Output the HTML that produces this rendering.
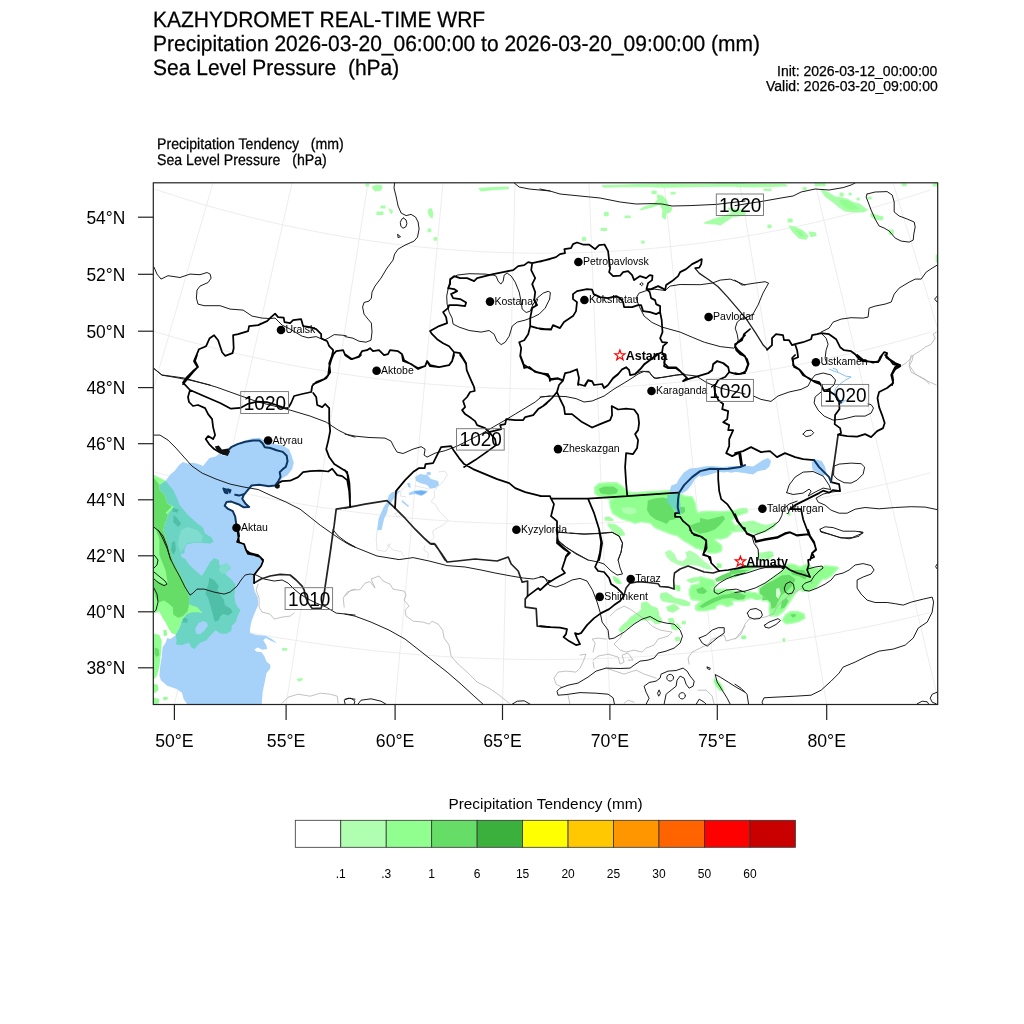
<!DOCTYPE html>
<html><head><meta charset="utf-8">
<style>
html,body{margin:0;padding:0;background:#fff;}
body{width:1024px;height:1024px;position:relative;overflow:hidden;font-family:"Liberation Sans",sans-serif;color:#000;}
.t{position:absolute;white-space:pre;line-height:1;will-change:transform;-webkit-text-stroke:0.25px #000;}
svg{position:absolute;left:0;top:0;will-change:transform;}
.s1{transform:translateY(-0.35px) scaleY(1.055);transform-origin:0 84.65%;text-rendering:geometricPrecision;}
.s2{transform:translateY(0.55px) scaleY(1.09);transform-origin:0 84.65%;text-rendering:geometricPrecision;}
svg text{font-family:"Liberation Sans",sans-serif;}
</style></head><body>
<div class="t s1" id="t1" style="left:153px;top:9.85px;font-size:21px;">KAZHYDROMET REAL-TIME WRF</div>
<div class="t s1" id="t2" style="left:153px;top:33.85px;font-size:21px;">Precipitation 2026-03-20_06:00:00 to 2026-03-20_09:00:00 (mm)</div>
<div class="t s1" id="t3" style="left:153px;top:57.85px;font-size:21px;">Sea Level Pressure  (hPa)</div>
<div class="t" id="t4" style="right:86.6px;top:64px;font-size:14px;">Init: 2026-03-12_00:00:00</div>
<div class="t" id="t5" style="right:86.6px;top:79.4px;font-size:14px;">Valid: 2026-03-20_09:00:00</div>
<div class="t s2" id="t6" style="left:157px;top:136.3px;font-size:14.15px;">Precipitation Tendency   (mm)</div>
<div class="t s2" id="t7" style="left:157px;top:151.8px;font-size:14.15px;">Sea Level Pressure   (hPa)</div>
<svg width="1024" height="1024" viewBox="0 0 1024 1024">
<!--MAP-->
<defs><clipPath id="fr"><rect x="153.3" y="182.8" width="784.4000000000001" height="521.7"/></clipPath></defs>
<g clip-path="url(#fr)">
<path d="M213.0,182.8 L61.9,704.5 M292.0,182.8 L174.4,704.5 M368.0,182.8 L286.1,704.5 M443.0,182.8 L395.1,704.5 M515.0,182.8 L502.5,704.5 M589.0,182.8 L609.9,704.5 M664.0,182.8 L717.3,704.5 M739.5,182.8 L826.7,704.5 M815.0,182.8 L939.2,704.5 M893.0,182.8 L1052.8,704.5 M150.0,187.6 L165.0,192.6 L180.0,197.4 L195.0,202.1 L210.0,206.5 L225.0,210.6 L240.0,214.6 L255.0,218.4 L270.0,222.0 L285.0,225.4 L300.0,228.5 L315.0,231.5 L330.0,234.3 L345.0,236.9 L360.0,239.3 L375.0,241.5 L390.0,243.5 L405.0,245.3 L420.0,247.0 L435.0,248.4 L450.0,249.7 L465.0,250.7 L480.0,251.6 L495.0,252.3 L510.0,252.8 L525.0,253.1 L540.0,253.3 L555.0,253.2 L570.0,253.0 L585.0,252.6 L600.0,252.0 L615.0,251.2 L630.0,250.2 L645.0,249.0 L660.0,247.7 L675.0,246.1 L690.0,244.4 L705.0,242.5 L720.0,240.3 L735.0,238.0 L750.0,235.5 L765.0,232.8 L780.0,230.0 L795.0,226.9 L810.0,223.6 L825.0,220.1 L840.0,216.4 L855.0,212.5 L870.0,208.4 L885.0,204.1 L900.0,199.6 L915.0,194.9 L930.0,190.0 M150.0,330.2 L165.0,334.7 L180.0,339.0 L195.0,343.1 L210.0,347.0 L225.0,350.8 L240.0,354.3 L255.0,357.7 L270.0,360.9 L285.0,363.9 L300.0,366.8 L315.0,369.4 L330.0,371.9 L345.0,374.3 L360.0,376.4 L375.0,378.4 L390.0,380.2 L405.0,381.8 L420.0,383.3 L435.0,384.6 L450.0,385.7 L465.0,386.7 L480.0,387.5 L495.0,388.1 L510.0,388.5 L525.0,388.8 L540.0,389.0 L555.0,388.9 L570.0,388.7 L585.0,388.3 L600.0,387.8 L615.0,387.1 L630.0,386.2 L645.0,385.1 L660.0,383.9 L675.0,382.5 L690.0,381.0 L705.0,379.2 L720.0,377.3 L735.0,375.3 L750.0,373.0 L765.0,370.6 L780.0,368.0 L795.0,365.3 L810.0,362.3 L825.0,359.2 L840.0,355.9 L855.0,352.4 L870.0,348.8 L885.0,344.9 L900.0,340.9 L915.0,336.7 L930.0,332.3 M150.0,470.9 L165.0,474.9 L180.0,478.8 L195.0,482.5 L210.0,486.1 L225.0,489.5 L240.0,492.7 L255.0,495.7 L270.0,498.6 L285.0,501.4 L300.0,503.9 L315.0,506.4 L330.0,508.6 L345.0,510.7 L360.0,512.7 L375.0,514.5 L390.0,516.1 L405.0,517.6 L420.0,518.9 L435.0,520.1 L450.0,521.1 L465.0,522.0 L480.0,522.7 L495.0,523.3 L510.0,523.7 L525.0,524.0 L540.0,524.1 L555.0,524.0 L570.0,523.9 L585.0,523.5 L600.0,523.0 L615.0,522.4 L630.0,521.6 L645.0,520.6 L660.0,519.5 L675.0,518.2 L690.0,516.8 L705.0,515.3 L720.0,513.5 L735.0,511.7 L750.0,509.6 L765.0,507.4 L780.0,505.1 L795.0,502.6 L810.0,499.9 L825.0,497.1 L840.0,494.1 L855.0,491.0 L870.0,487.7 L885.0,484.2 L900.0,480.6 L915.0,476.8 L930.0,472.8 M150.0,611.0 L165.0,614.7 L180.0,618.2 L195.0,621.6 L210.0,624.8 L225.0,627.9 L240.0,630.8 L255.0,633.6 L270.0,636.3 L285.0,638.8 L300.0,641.1 L315.0,643.3 L330.0,645.4 L345.0,647.3 L360.0,649.1 L375.0,650.8 L390.0,652.3 L405.0,653.6 L420.0,654.8 L435.0,655.9 L450.0,656.9 L465.0,657.7 L480.0,658.3 L495.0,658.8 L510.0,659.2 L525.0,659.5 L540.0,659.6 L555.0,659.5 L570.0,659.4 L585.0,659.0 L600.0,658.6 L615.0,658.0 L630.0,657.3 L645.0,656.4 L660.0,655.4 L675.0,654.2 L690.0,652.9 L705.0,651.5 L720.0,649.9 L735.0,648.2 L750.0,646.3 L765.0,644.3 L780.0,642.2 L795.0,639.9 L810.0,637.5 L825.0,634.9 L840.0,632.2 L855.0,629.3 L870.0,626.3 L885.0,623.1 L900.0,619.8 L915.0,616.3 L930.0,612.7" fill="none" stroke="#e8e8e8" stroke-width="0.8"/>
<!--FILLS-->
<path d="M595.5,487.3 L599.4,484.2 L607.2,483.4 L616.6,483.4 L621.2,486.6 L625.2,490.5 L630.6,493.6 L636.9,493.6 L643.1,492.8 L655.6,492.0 L669.7,491.2 L671.2,493.6 L679.1,493.6 L683.8,496.7 L691.6,497.5 L694.7,503.8 L695.5,510.0 L697.8,513.9 L704.1,513.1 L715.0,513.1 L725.9,512.3 L733.8,511.6 L740.0,510.0 L746.2,509.2 L747.0,511.6 L740.0,513.9 L735.3,516.2 L730.6,520.2 L733.8,525.6 L740.0,528.8 L735.3,531.1 L727.5,530.3 L725.9,535.0 L721.2,538.1 L715.0,538.1 L713.4,541.2 L719.7,545.2 L721.2,549.1 L716.6,552.2 L708.8,552.2 L702.5,549.1 L696.2,547.5 L691.6,544.4 L683.8,539.7 L677.5,535.0 L671.2,533.4 L663.4,530.3 L655.6,527.2 L650.9,522.5 L641.6,520.9 L635.3,522.5 L629.1,520.2 L621.2,517.8 L613.4,513.1 L611.1,506.9 L610.3,501.4 L615.0,499.1 L610.3,498.3 L599.4,495.9 L595.5,492.8Z" fill="#b0ffb0" stroke="#b0ffb0" stroke-width="3" stroke-linejoin="round"/>
<path d="M604.8,517.8 L608.8,517.0 L613.4,520.2 L608.8,520.6Z" fill="#b0ffb0" stroke="#b0ffb0" stroke-width="1.2" stroke-linejoin="round"/>
<path d="M608.8,524.8 L615.0,525.6 L621.2,530.3 L623.6,534.2 L619.7,535.0 L613.4,530.3Z" fill="#b0ffb0" stroke="#b0ffb0" stroke-width="3" stroke-linejoin="round"/>
<path d="M613.4,576.4 L618.1,578.8 L621.2,583.4 L617.3,583.4 L614.2,580.3Z" fill="#b0ffb0" stroke="#b0ffb0" stroke-width="1.2" stroke-linejoin="round"/>
<path d="M690.0,589.7 L696.2,586.6 L704.1,585.0 L710.3,588.1 L715.0,592.8 L722.8,595.9 L730.6,595.2 L740.0,594.4 L746.2,595.9 L740.0,599.1 L730.6,600.6 L724.4,601.4 L718.1,603.8 L711.9,608.4 L705.6,610.0 L697.8,610.0 L696.2,606.1 L702.5,602.2 L699.4,599.1 L693.1,599.1 L690.0,594.4Z" fill="#b0ffb0" stroke="#b0ffb0" stroke-width="3" stroke-linejoin="round"/>
<path d="M661.1,593.6 L666.6,592.8 L672.8,597.5 L677.5,599.1 L683.8,600.6 L690.0,604.5 L683.8,605.3 L677.5,603.8 L671.2,601.4 L663.4,600.6 L660.3,597.5Z" fill="#b0ffb0" stroke="#b0ffb0" stroke-width="1.2" stroke-linejoin="round"/>
<path d="M686.9,580.3 L693.1,578.0 L702.5,577.2 L699.4,580.3 L691.6,582.7Z" fill="#b0ffb0" stroke="#b0ffb0" stroke-width="1.2" stroke-linejoin="round"/>
<path d="M641.6,603.8 L646.2,602.2 L652.5,606.9 L657.2,608.4 L658.8,614.7 L655.6,620.0 L641.6,620.0 L636.9,616.2 L643.1,610.0Z" fill="#b0ffb0" stroke="#b0ffb0" stroke-width="1.2" stroke-linejoin="round"/>
<path d="M674.4,585.0 L679.1,585.8 L677.5,589.7 L674.4,588.9Z" fill="#b0ffb0" stroke="#b0ffb0" stroke-width="1.2" stroke-linejoin="round"/>
<path d="M668.1,606.9 L674.4,604.5 L679.1,608.4 L672.8,612.3 L668.1,610.8Z" fill="#b0ffb0" stroke="#b0ffb0" stroke-width="1.2" stroke-linejoin="round"/>
<path d="M708.8,580.3 L715.0,581.1 L713.4,585.0 L708.8,583.4Z" fill="#b0ffb0" stroke="#b0ffb0" stroke-width="1.2" stroke-linejoin="round"/>
<path d="M700.0,512.7 L709.4,511.9 L720.3,512.7 L729.7,511.9 L733.6,514.2 L731.2,518.1 L728.1,522.8 L726.6,529.1 L731.2,532.2 L726.6,536.9 L720.3,538.4 L712.5,536.9 L706.2,534.5 L700.0,535.3Z" fill="#b0ffb0" stroke="#b0ffb0" stroke-width="3" stroke-linejoin="round"/>
<path d="M741.4,508.8 L746.1,508.8 L745.3,511.1 L740.6,511.6Z" fill="#b0ffb0" stroke="#b0ffb0" stroke-width="1.2" stroke-linejoin="round"/>
<path d="M742.2,525.2 L746.9,522.8 L753.1,522.0 L760.9,525.2 L768.8,526.7 L775.0,523.6 L771.9,527.5 L765.6,530.6 L757.8,533.0 L750.0,531.4 L744.5,529.1Z" fill="#b0ffb0" stroke="#b0ffb0" stroke-width="3" stroke-linejoin="round"/>
<path d="M708.6,543.1 L715.6,541.6 L721.1,546.2 L720.3,550.9 L714.1,551.7 L709.4,549.4Z" fill="#b0ffb0" stroke="#b0ffb0" stroke-width="3" stroke-linejoin="round"/>
<path d="M717.2,563.4 L721.1,564.2 L721.1,567.3 L717.2,567.3Z" fill="#b0ffb0" stroke="#b0ffb0" stroke-width="1.2" stroke-linejoin="round"/>
<path d="M764.1,552.5 L770.3,551.7 L773.4,555.6 L768.8,558.8 L762.5,557.2Z" fill="#b0ffb0" stroke="#b0ffb0" stroke-width="1.2" stroke-linejoin="round"/>
<path d="M731.2,574.4 L739.1,569.7 L746.9,566.6 L756.2,566.6 L746.9,571.2 L739.1,574.4 L731.2,577.5Z" fill="#b0ffb0" stroke="#b0ffb0" stroke-width="3" stroke-linejoin="round"/>
<path d="M762.5,600.0 L760.9,590.0 L767.2,585.3 L773.4,579.1 L779.7,574.4 L784.4,569.7 L787.5,565.0 L793.8,565.0 L800.0,568.1 L806.2,565.0 L812.5,568.1 L818.8,569.7 L825.0,566.6 L832.8,567.3 L837.5,568.1 L832.8,572.8 L825.0,575.9 L820.3,580.6 L815.6,586.9 L809.4,590.0 L803.1,590.8 L800.0,588.4 L793.8,593.1 L789.1,596.2 L784.4,600.0Z" fill="#b0ffb0" stroke="#b0ffb0" stroke-width="3" stroke-linejoin="round"/>
<path d="M700.0,577.5 L706.2,579.1 L712.5,580.6 L715.6,585.3 L709.4,587.7 L703.1,586.9 L700.0,585.3Z" fill="#b0ffb0" stroke="#b0ffb0" stroke-width="3" stroke-linejoin="round"/>
<path d="M700.0,590.0 L707.8,591.6 L717.2,590.0 L726.6,590.0 L731.2,593.9 L739.1,594.7 L746.9,596.2 L743.8,600.0 L700.0,600.0Z" fill="#b0ffb0" stroke="#b0ffb0" stroke-width="3" stroke-linejoin="round"/>
<path d="M618.9,630.0 L622.8,625.3 L627.5,621.4 L630.6,617.5 L636.9,613.6 L641.6,609.7 L641.6,603.4 L646.2,601.9 L649.4,605.0 L649.4,609.7 L654.1,608.1 L658.0,611.2 L658.8,615.9 L661.9,619.8 L660.3,623.0 L655.6,623.8 L652.5,620.6 L649.4,617.5 L644.7,619.1 L640.0,619.1 L635.3,622.2 L630.6,625.3 L625.9,628.4 L621.2,632.3Z" fill="#b0ffb0" stroke="#b0ffb0" stroke-width="1.2" stroke-linejoin="round"/>
<path d="M661.1,594.1 L665.0,593.3 L671.2,595.6 L675.2,599.5 L674.4,602.7 L668.1,601.9 L661.9,600.3Z" fill="#b0ffb0" stroke="#b0ffb0" stroke-width="1.2" stroke-linejoin="round"/>
<path d="M677.5,598.8 L683.8,600.3 L690.0,602.7 L688.4,605.8 L682.2,605.0 L677.5,602.7Z" fill="#b0ffb0" stroke="#b0ffb0" stroke-width="1.2" stroke-linejoin="round"/>
<path d="M666.6,607.3 L672.8,605.0 L677.5,607.3 L674.4,611.2 L668.1,610.5Z" fill="#b0ffb0" stroke="#b0ffb0" stroke-width="1.2" stroke-linejoin="round"/>
<path d="M668.1,619.1 L672.8,618.3 L674.4,622.2 L669.7,623.0Z" fill="#b0ffb0" stroke="#b0ffb0" stroke-width="1.2" stroke-linejoin="round"/>
<path d="M671.2,625.3 L677.5,623.8 L680.6,627.7 L675.9,630.0 L672.0,628.4Z" fill="#b0ffb0" stroke="#b0ffb0" stroke-width="1.2" stroke-linejoin="round"/>
<path d="M675.2,637.8 L679.1,637.0 L679.8,640.2 L675.9,640.9Z" fill="#b0ffb0" stroke="#b0ffb0" stroke-width="1.2" stroke-linejoin="round"/>
<path d="M682.2,621.4 L685.3,621.4 L685.3,623.8 L682.2,623.8Z" fill="#b0ffb0" stroke="#b0ffb0" stroke-width="1.2" stroke-linejoin="round"/>
<path d="M691.6,586.2 L697.8,584.7 L705.6,585.5 L708.8,589.4 L715.0,591.7 L722.8,590.2 L730.6,590.9 L740.0,593.3 L750.0,592.5 L750.0,598.0 L740.0,598.8 L730.6,600.3 L732.2,604.2 L727.5,605.8 L721.2,603.4 L715.0,605.0 L715.0,608.1 L708.8,608.9 L705.6,606.6 L700.9,609.7 L696.2,608.9 L697.8,605.0 L702.5,601.1 L697.8,599.5 L691.6,598.8 L690.8,594.1Z" fill="#b0ffb0" stroke="#b0ffb0" stroke-width="3" stroke-linejoin="round"/>
<path d="M714.2,678.4 L716.6,680.0 L721.2,684.7 L723.6,690.9 L719.7,690.2 L716.6,686.2 L714.2,681.6Z" fill="#b0ffb0" stroke="#b0ffb0" stroke-width="1.2" stroke-linejoin="round"/>
<path d="M677.5,586.2 L679.8,586.2 L679.8,590.9 L677.5,590.9Z" fill="#b0ffb0" stroke="#b0ffb0" stroke-width="1.2" stroke-linejoin="round"/>
<path d="M742.3,636.2 L745.5,636.2 L745.5,638.6 L742.3,638.6Z" fill="#b0ffb0" stroke="#b0ffb0" stroke-width="1.2" stroke-linejoin="round"/>
<path d="M759.7,588.8 L765.9,584.1 L773.8,579.4 L780.0,574.7 L784.7,570.0 L817.5,570.0 L817.5,580.9 L811.2,582.5 L811.2,587.2 L806.6,590.3 L801.9,588.8 L798.8,585.6 L795.6,591.9 L792.5,596.6 L789.4,601.2 L786.2,605.9 L783.1,610.6 L776.9,615.3 L770.6,615.3 L769.8,609.1 L770.6,602.8 L767.5,599.7 L762.8,596.6 L759.7,593.4Z" fill="#b0ffb0" stroke="#b0ffb0" stroke-width="3" stroke-linejoin="round"/>
<path d="M817.5,570.0 L833.1,570.0 L831.6,574.7 L825.3,578.6 L819.1,577.0 L817.5,580.9Z" fill="#b0ffb0" stroke="#b0ffb0" stroke-width="3" stroke-linejoin="round"/>
<path d="M749.5,593.4 L755.0,592.7 L760.5,595.8 L761.2,598.9 L756.6,599.7 L750.3,597.3Z" fill="#b0ffb0" stroke="#b0ffb0" stroke-width="1.2" stroke-linejoin="round"/>
<path d="M783.1,620.0 L786.2,615.3 L790.9,612.2 L797.2,612.2 L803.4,614.5 L804.2,617.7 L798.8,620.8 L792.5,622.3 L786.2,623.1Z" fill="#b0ffb0" stroke="#b0ffb0" stroke-width="3" stroke-linejoin="round"/>
<path d="M741.7,636.4 L745.6,636.4 L745.6,638.3 L741.7,638.3Z" fill="#b0ffb0" stroke="#b0ffb0" stroke-width="1.2" stroke-linejoin="round"/>
<path d="M783.1,638.8 L784.7,638.8 L784.7,641.1 L783.1,641.1Z" fill="#b0ffb0" stroke="#b0ffb0" stroke-width="1.2" stroke-linejoin="round"/>
<path d="M372.0,187.0 L377.0,185.0 L382.0,186.0 L381.0,190.0 L375.0,191.0Z" fill="#b0ffb0" stroke="#b0ffb0" stroke-width="1.2" stroke-linejoin="round"/>
<path d="M377.0,212.0 L383.0,212.0 L383.0,214.4 L377.0,214.4Z" fill="#b0ffb0" stroke="#b0ffb0" stroke-width="1.2" stroke-linejoin="round"/>
<path d="M381.0,206.0 L385.0,206.0 L385.0,208.0 L381.0,208.0Z" fill="#b0ffb0" stroke="#b0ffb0" stroke-width="1.2" stroke-linejoin="round"/>
<path d="M389.0,209.0 L392.6,211.0 L391.4,213.6Z" fill="#b0ffb0" stroke="#b0ffb0" stroke-width="1.2" stroke-linejoin="round"/>
<path d="M428.1,210.0 L431.1,208.6 L432.7,213.0 L432.1,218.0 L429.1,215.0Z" fill="#b0ffb0" stroke="#b0ffb0" stroke-width="1.2" stroke-linejoin="round"/>
<path d="M428.1,229.0 L430.7,229.0 L430.7,231.7 L428.1,231.7Z" fill="#b0ffb0" stroke="#b0ffb0" stroke-width="1.2" stroke-linejoin="round"/>
<path d="M434.1,237.7 L436.7,237.7 L436.7,240.1 L434.1,240.1Z" fill="#b0ffb0" stroke="#b0ffb0" stroke-width="1.2" stroke-linejoin="round"/>
<path d="M479.1,188.4 L493.1,187.6 L508.2,187.0 L508.2,188.6 L493.1,189.6 L481.1,191.0Z" fill="#b0ffb0" stroke="#b0ffb0" stroke-width="1.2" stroke-linejoin="round"/>
<path d="M366.0,184.0 L368.6,184.0 L368.6,186.0 L366.0,186.0Z" fill="#b0ffb0" stroke="#b0ffb0" stroke-width="1.2" stroke-linejoin="round"/>
<path d="M602.1,185.6 L624.1,185.0 L644.1,184.4 L660.1,184.2 L680.1,184.2 L700.2,184.4 L720.2,183.8 L745.0,183.8 L745.0,186.2 L720.2,186.2 L700.2,186.4 L680.1,186.8 L664.1,187.2 L644.1,186.4 L624.1,186.6 L604.1,187.2Z" fill="#b0ffb0" stroke="#b0ffb0" stroke-width="1.2" stroke-linejoin="round"/>
<path d="M657.1,195.0 L662.1,196.0 L666.1,200.0 L668.1,206.0 L672.1,208.0 L670.1,212.0 L666.1,213.0 L665.1,219.0 L662.5,217.0 L663.1,210.0 L660.1,204.0 L652.1,207.0 L640.1,210.0 L644.1,207.0 L654.1,204.0 L658.1,200.0Z" fill="#b0ffb0" stroke="#b0ffb0" stroke-width="1.2" stroke-linejoin="round"/>
<path d="M652.1,191.0 L656.1,191.0 L656.1,193.6 L652.1,193.6Z" fill="#b0ffb0" stroke="#b0ffb0" stroke-width="1.2" stroke-linejoin="round"/>
<path d="M671.1,192.4 L675.1,192.4 L675.1,194.0 L671.1,194.0Z" fill="#b0ffb0" stroke="#b0ffb0" stroke-width="1.2" stroke-linejoin="round"/>
<path d="M604.5,212.4 L608.1,212.4 L608.1,215.6 L604.5,215.6Z" fill="#b0ffb0" stroke="#b0ffb0" stroke-width="1.2" stroke-linejoin="round"/>
<path d="M625.1,216.0 L630.1,216.0 L630.1,217.6 L625.1,217.6Z" fill="#b0ffb0" stroke="#b0ffb0" stroke-width="1.2" stroke-linejoin="round"/>
<path d="M601.1,228.4 L606.5,228.4 L606.5,230.4 L601.1,230.4Z" fill="#b0ffb0" stroke="#b0ffb0" stroke-width="1.2" stroke-linejoin="round"/>
<path d="M582.4,237.7 L585.6,237.7 L585.6,240.5 L582.4,240.5Z" fill="#b0ffb0" stroke="#b0ffb0" stroke-width="1.2" stroke-linejoin="round"/>
<path d="M641.7,241.1 L644.1,241.1 L644.1,243.1 L641.7,243.1Z" fill="#b0ffb0" stroke="#b0ffb0" stroke-width="1.2" stroke-linejoin="round"/>
<path d="M704.2,223.0 L714.2,219.0 L724.2,216.0 L732.2,213.0 L728.2,208.0 L740.2,210.0 L745.0,210.0 L745.0,215.0 L732.2,217.0 L726.2,221.0 L720.2,225.0 L716.2,224.0 L708.2,223.6Z" fill="#b0ffb0" stroke="#b0ffb0" stroke-width="1.2" stroke-linejoin="round"/>
<path d="M735.0,183.8 L755.0,184.0 L785.0,184.4 L787.1,185.8 L771.0,186.4 L755.0,186.8 L735.0,186.4Z" fill="#b0ffb0" stroke="#b0ffb0" stroke-width="1.2" stroke-linejoin="round"/>
<path d="M764.0,189.0 L771.0,189.0 L771.0,190.4 L764.0,190.4Z" fill="#b0ffb0" stroke="#b0ffb0" stroke-width="1.2" stroke-linejoin="round"/>
<path d="M803.1,187.6 L806.1,187.6 L806.1,189.6 L803.1,189.6Z" fill="#b0ffb0" stroke="#b0ffb0" stroke-width="1.2" stroke-linejoin="round"/>
<path d="M815.1,183.6 L825.1,183.6 L825.1,185.6 L815.1,185.6Z" fill="#b0ffb0" stroke="#b0ffb0" stroke-width="1.2" stroke-linejoin="round"/>
<path d="M821.1,190.0 L827.1,192.0 L835.1,197.0 L843.1,198.0 L851.1,202.0 L859.1,204.0 L867.1,210.0 L863.1,212.0 L853.1,212.0 L845.1,211.0 L839.1,207.0 L833.1,202.0 L825.1,196.0Z" fill="#b0ffb0" stroke="#b0ffb0" stroke-width="1.2" stroke-linejoin="round"/>
<path d="M840.1,193.0 L843.1,193.0 L843.1,196.0 L840.1,196.0Z" fill="#b0ffb0" stroke="#b0ffb0" stroke-width="1.2" stroke-linejoin="round"/>
<path d="M849.1,193.0 L851.1,193.0 L851.1,195.0 L849.1,195.0Z" fill="#b0ffb0" stroke="#b0ffb0" stroke-width="1.2" stroke-linejoin="round"/>
<path d="M857.1,198.0 L859.1,198.0 L859.1,200.0 L857.1,200.0Z" fill="#b0ffb0" stroke="#b0ffb0" stroke-width="1.2" stroke-linejoin="round"/>
<path d="M871.1,213.0 L875.1,215.0 L883.1,217.0 L882.1,220.0 L875.1,219.0 L871.1,216.0Z" fill="#b0ffb0" stroke="#b0ffb0" stroke-width="1.2" stroke-linejoin="round"/>
<path d="M889.2,230.0 L893.2,230.0 L893.2,234.1 L889.2,234.1Z" fill="#b0ffb0" stroke="#b0ffb0" stroke-width="1.2" stroke-linejoin="round"/>
<path d="M868.1,197.0 L871.1,197.0 L871.1,199.0 L868.1,199.0Z" fill="#b0ffb0" stroke="#b0ffb0" stroke-width="1.2" stroke-linejoin="round"/>
<path d="M789.1,226.0 L795.1,227.0 L803.1,231.0 L808.1,236.1 L806.1,239.1 L799.1,238.1 L793.1,232.1Z" fill="#b0ffb0" stroke="#b0ffb0" stroke-width="1.2" stroke-linejoin="round"/>
<path d="M809.1,232.1 L815.1,232.5 L816.1,235.7 L811.1,236.5Z" fill="#b0ffb0" stroke="#b0ffb0" stroke-width="1.2" stroke-linejoin="round"/>
<path d="M788.1,219.0 L792.1,219.0 L792.1,222.0 L788.1,222.0Z" fill="#b0ffb0" stroke="#b0ffb0" stroke-width="1.2" stroke-linejoin="round"/>
<path d="M768.0,225.0 L771.0,225.0 L771.0,227.6 L768.0,227.6Z" fill="#b0ffb0" stroke="#b0ffb0" stroke-width="1.2" stroke-linejoin="round"/>
<path d="M735.0,210.0 L741.0,210.0 L741.0,213.0 L735.0,213.0Z" fill="#b0ffb0" stroke="#b0ffb0" stroke-width="1.2" stroke-linejoin="round"/>
<path d="M902.2,183.6 L906.2,183.6 L906.2,185.6 L902.2,185.6Z" fill="#b0ffb0" stroke="#b0ffb0" stroke-width="1.2" stroke-linejoin="round"/>
<path d="M933.2,183.6 L937.2,183.6 L937.2,186.0 L933.2,186.0Z" fill="#b0ffb0" stroke="#b0ffb0" stroke-width="1.2" stroke-linejoin="round"/>
<path d="M936.2,255.1 L937.6,255.1 L937.6,262.1 L936.2,262.1Z" fill="#b0ffb0" stroke="#b0ffb0" stroke-width="1.2" stroke-linejoin="round"/>
<path d="M609.1,526.2 L614.1,525.2 L620.1,529.2 L623.1,534.2 L618.1,533.2 L612.1,529.2Z" fill="#b0ffb0" stroke="#b0ffb0" stroke-width="1.2" stroke-linejoin="round"/>
<path d="M605.1,518.2 L611.1,518.2 L611.1,520.2 L605.1,520.2Z" fill="#b0ffb0" stroke="#b0ffb0" stroke-width="1.2" stroke-linejoin="round"/>
<path d="M739.0,509.2 L746.0,509.2 L746.0,512.2 L739.0,512.2Z" fill="#b0ffb0" stroke="#b0ffb0" stroke-width="1.2" stroke-linejoin="round"/>
<path d="M735.0,526.2 L743.0,522.2 L753.0,523.2 L763.0,526.2 L773.0,524.2 L775.0,526.2 L765.0,530.2 L755.0,531.2 L745.0,531.2 L735.0,531.2Z" fill="#b0ffb0" stroke="#b0ffb0" stroke-width="1.2" stroke-linejoin="round"/>
<path d="M788.1,513.2 L790.1,513.2 L790.1,515.2 L788.1,515.2Z" fill="#b0ffb0" stroke="#b0ffb0" stroke-width="1.2" stroke-linejoin="round"/>
<path d="M759.0,553.2 L773.0,552.2 L771.0,555.2 L763.0,558.2 L759.0,560.0Z" fill="#b0ffb0" stroke="#b0ffb0" stroke-width="1.2" stroke-linejoin="round"/>
<path d="M839.1,200.0 L847.1,200.0 L855.1,205.0 L859.1,209.0 L851.1,210.0 L844.1,207.0Z" fill="#b0ffb0" stroke="#b0ffb0" stroke-width="3" stroke-linejoin="round"/>
<path d="M795.1,229.0 L801.1,231.7 L804.1,236.1 L800.1,236.5Z" fill="#b0ffb0" stroke="#b0ffb0" stroke-width="1.2" stroke-linejoin="round"/>
<path d="M165.6,480.8 L170.3,474.5 L175.0,470.6 L178.9,465.2 L182.8,462.0 L187.5,463.6 L192.2,462.8 L196.9,463.6 L203.1,465.9 L209.4,458.1 L215.6,456.6 L219.5,453.4 L223.4,455.8 L226.6,455.0 L230.5,448.8 L235.9,444.8 L243.8,440.9 L251.6,438.6 L259.4,437.8 L265.6,440.9 L273.4,444.1 L282.8,445.6 L289.1,449.5 L291.4,455.0 L293.8,462.8 L292.2,469.1 L287.5,475.3 L282.8,477.7 L279.7,481.6 L276.6,485.5 L268.8,486.2 L259.4,484.7 L251.6,486.2 L247.7,490.2 L243.8,495.6 L242.2,498.8 L245.3,503.4 L249.2,506.6 L247.7,508.1 L242.2,507.3 L237.5,503.4 L231.2,501.1 L226.6,501.9 L224.7,505.8 L228.1,508.9 L232.8,511.2 L235.2,516.7 L236.7,523.8 L239.1,530.0 L239.8,536.2 L237.5,541.7 L243.8,543.3 L246.1,548.8 L248.4,553.4 L256.2,555.0 L261.7,558.1 L263.3,562.8 L259.4,569.4 L254.7,574.1 L253.9,580.3 L253.1,584.2 L254.7,591.2 L257.8,597.5 L258.1,605.3 L254.7,613.1 L251.6,620.9 L250.0,628.8 L250.0,633.1 L256.2,635.0 L265.6,635.8 L271.9,638.9 L277.3,643.6 L270.3,640.5 L265.6,638.1 L263.3,640.5 L266.4,645.2 L267.2,649.1 L262.5,649.8 L257.8,647.5 L254.4,649.4 L256.2,651.4 L261.7,652.2 L264.8,656.9 L266.4,661.6 L270.3,664.7 L270.3,668.6 L266.4,673.3 L264.8,681.9 L262.8,691.2 L261.7,704.5 L187.5,704.5 L183.6,699.1 L182.0,692.8 L176.6,688.9 L167.2,685.8 L160.9,680.3 L159.4,675.6 L160.2,666.2 L161.7,656.9 L162.5,647.5 L165.6,642.8 L167.2,638.1 L170.3,638.9 L175.0,635.8 L177.3,631.1 L179.7,627.2 L182.0,619.4 L186.7,613.9 L189.1,604.5 L189.1,596.7 L185.2,585.0 L180.5,575.6 L175.0,566.2 L170.3,560.0 L166.4,539.4 L163.3,530.0 L164.8,523.8 L168.8,512.8 L173.4,506.6 L167.2,503.4 L164.8,495.6 L159.4,489.4 L159.4,484.7Z" fill="#a6d2fa"/>
<path d="M165.6,480.8 L173.4,490.2 L177.3,498.8 L179.7,505.0 L187.5,514.4 L196.9,523.0 L203.1,527.7 L204.7,533.1 L211.7,537.8 L213.8,541.7 L209.4,543.8 L201.6,542.8 L193.8,542.8 L186.7,544.4 L184.7,548.8 L184.4,553.4 L181.2,553.4 L180.9,556.6 L185.2,558.9 L189.1,564.4 L195.3,570.6 L201.6,576.1 L203.9,573.0 L207.0,567.5 L210.2,562.0 L214.1,558.1 L218.8,560.0 L219.5,565.2 L223.4,569.1 L228.1,565.6 L230.9,567.5 L228.9,570.6 L224.2,571.4 L226.6,575.3 L231.2,579.2 L235.6,584.7 L235.2,590.0 L234.4,594.4 L235.2,602.2 L237.5,606.9 L240.6,610.0 L237.5,616.2 L235.9,621.7 L232.0,625.6 L231.2,631.1 L226.6,633.8 L220.3,633.4 L215.6,630.3 L210.9,635.0 L206.2,640.5 L200.0,642.8 L194.5,649.1 L191.4,647.5 L189.1,642.8 L181.2,645.2 L175.8,644.4 L176.6,641.2 L175.8,634.2 L179.7,627.2 L182.0,619.4 L186.7,613.9 L189.1,604.5 L189.1,596.7 L185.2,585.0 L180.5,575.6 L175.0,566.2 L170.3,560.0 L166.4,539.4 L163.3,530.0 L164.8,523.8 L168.8,512.8 L173.4,506.6 L167.2,503.4 L164.8,495.6 L159.4,489.4 L159.4,484.7Z" fill="#6cd4c2"/>
<path d="M195.3,628.8 L198.4,623.3 L203.1,620.9 L207.0,622.5 L207.8,625.6 L204.7,630.3 L200.0,634.2 L196.1,633.4Z" fill="#a6d2fa"/>
<path d="M181.2,530.0 L187.5,526.9 L196.9,530.0 L203.1,536.2 L201.6,541.7 L193.8,541.7 L186.7,543.3 L183.6,548.8 L180.5,551.9 L178.1,545.6 L178.9,537.8Z" fill="#80dccf"/>
<path d="M218.8,569.4 L221.1,564.7 L226.6,563.1 L230.5,566.2 L229.7,569.4 L225.0,574.1 L221.1,573.3Z" fill="#80dccf"/>
<path d="M209.4,578.0 L212.5,580.3 L215.6,586.6 L218.8,592.8 L223.4,599.1 L225.0,605.3 L230.5,608.4 L232.8,612.3 L228.1,615.5 L223.4,613.9 L220.3,616.2 L218.8,620.2 L214.8,621.7 L213.3,616.2 L211.7,610.0 L210.2,605.3 L208.6,599.1 L205.5,593.6 L207.0,588.1 L208.6,582.7Z" fill="#50bfa8"/>
<path d="M173.4,515.2 L176.6,517.5 L181.2,523.8 L178.1,526.9 L173.4,522.2Z" fill="#50bfa8"/>
<path d="M173.4,508.1 L178.9,509.7 L177.3,512.8 L171.9,511.2Z" fill="#50bfa8"/>
<path d="M171.9,542.5 L175.0,540.9 L175.8,550.3 L173.4,555.0 L171.1,550.3Z" fill="#50bfa8"/>
<path d="M209.4,577.7 L214.1,580.0 L218.8,586.2 L217.2,590.0 L210.9,586.2Z" fill="#50bfa8"/>
<path d="M183.6,617.8 L187.5,618.6 L187.5,622.5 L182.8,622.5Z" fill="#50bfa8"/>
<path d="M153.1,474.5 L165.6,480.8 L159.4,484.7 L159.4,489.4 L164.8,495.6 L167.2,503.4 L173.4,506.6 L168.8,512.8 L164.8,523.8 L163.3,530.0 L166.4,539.4 L170.3,560.0 L175.0,566.2 L180.5,575.6 L185.2,585.0 L189.1,596.7 L189.1,604.5 L196.9,606.9 L202.8,613.1 L198.4,612.3 L192.2,612.3 L186.7,613.9 L182.0,619.4 L179.7,627.2 L175.8,634.2 L171.9,633.4 L168.8,628.8 L165.6,622.5 L162.5,617.8 L159.4,611.6 L154.7,613.1 L153.1,613.1Z" fill="#90ff90"/>
<path d="M153.1,476.9 L159.4,484.7 L159.4,489.4 L164.8,495.6 L167.2,503.4 L171.9,506.6 L168.8,512.8 L164.8,523.8 L163.3,530.0 L166.4,539.4 L170.3,551.9 L173.4,562.8 L179.7,573.8 L185.2,590.0 L168.8,590.0 L165.6,570.6 L159.4,555.0 L159.4,539.4 L156.2,530.0 L153.1,526.9Z" fill="#66dd66"/>
<path d="M153.9,580.3 L159.4,581.9 L165.6,585.0 L170.3,580.3 L168.8,572.5 L165.6,566.2 L170.3,560.0 L175.0,566.2 L180.5,575.6 L185.2,585.0 L189.1,596.7 L189.1,604.5 L187.5,611.6 L182.8,616.2 L178.1,617.8 L173.4,614.7 L172.7,606.9 L168.8,603.8 L164.1,600.6 L159.4,602.2 L156.2,599.1 L153.9,591.2Z" fill="#66dd66"/>
<path d="M165.6,512.8 L171.9,506.6 L173.1,507.3 L167.2,514.4Z" fill="#90ff90"/>
<path d="M153.9,633.4 L159.4,635.0 L161.7,641.2 L160.9,653.8 L159.4,666.2 L157.0,675.6 L154.7,678.8 L153.1,678.8Z" fill="#90ff90"/>
<path d="M154.7,647.5 L158.6,649.1 L159.4,655.3 L156.2,656.9 L154.7,653.8Z" fill="#66dd66"/>
<path d="M153.1,683.4 L157.8,685.0 L158.6,689.7 L155.5,692.8 L153.1,692.8Z" fill="#90ff90"/>
<path d="M162.5,697.5 L167.2,696.7 L168.0,699.1 L164.1,700.6Z" fill="#90ff90"/>
<path d="M153.1,697.5 L159.4,699.1 L158.6,703.8 L153.1,703.8Z" fill="#90ff90"/>
<path d="M163.3,630.3 L166.4,629.5 L167.2,635.0 L164.1,636.6Z" fill="#90ff90"/>
<path d="M669.7,490.5 L671.2,485.8 L676.7,483.4 L679.1,478.8 L683.8,472.5 L690.0,468.6 L697.8,467.8 L705.6,466.2 L715.0,466.2 L722.8,467.0 L730.6,466.2 L740.0,465.9 L750.0,466.2 L750.0,473.3 L740.0,472.5 L730.6,470.9 L724.4,472.5 L715.0,471.7 L705.6,474.1 L699.4,475.6 L694.7,479.5 L691.6,485.0 L686.9,490.5 L682.2,493.6 L679.1,493.6 L671.2,493.6Z" fill="#a6d2fa"/>
<path d="M700.0,470.5 L704.7,468.1 L712.5,466.6 L718.8,468.1 L728.1,467.3 L735.9,466.6 L743.8,465.8 L753.1,466.6 L757.8,463.4 L762.5,460.3 L768.0,458.0 L771.1,461.1 L769.5,466.6 L765.6,469.7 L757.8,471.2 L753.1,474.4 L746.9,473.6 L739.1,471.2 L731.2,472.8 L723.4,471.2 L715.6,472.8 L707.8,475.2 L700.0,476.7Z" fill="#a6d2fa"/>
<path d="M811.7,461.9 L815.6,459.5 L821.9,461.1 L825.0,466.6 L826.6,472.8 L823.4,475.9 L817.2,472.8 L812.5,469.7Z" fill="#a6d2fa"/>
<path d="M595.5,487.3 L599.4,484.2 L607.2,483.4 L616.6,483.4 L621.2,486.6 L625.2,490.5 L630.6,493.6 L636.9,493.6 L643.1,492.8 L655.6,492.0 L669.7,491.2 L671.2,493.6 L679.1,493.6 L683.8,496.7 L691.6,497.5 L694.7,503.8 L695.5,510.0 L697.8,513.9 L704.1,513.1 L715.0,513.1 L725.9,512.3 L733.8,511.6 L740.0,510.0 L746.2,509.2 L747.0,511.6 L740.0,513.9 L735.3,516.2 L730.6,520.2 L733.8,525.6 L740.0,528.8 L735.3,531.1 L727.5,530.3 L725.9,535.0 L721.2,538.1 L715.0,538.1 L713.4,541.2 L719.7,545.2 L721.2,549.1 L716.6,552.2 L708.8,552.2 L702.5,549.1 L696.2,547.5 L691.6,544.4 L683.8,539.7 L677.5,535.0 L671.2,533.4 L663.4,530.3 L655.6,527.2 L650.9,522.5 L641.6,520.9 L635.3,522.5 L629.1,520.2 L621.2,517.8 L613.4,513.1 L611.1,506.9 L610.3,501.4 L615.0,499.1 L610.3,498.3 L599.4,495.9 L595.5,492.8Z" fill="#90ff90"/>
<path d="M621.2,508.4 L627.5,506.9 L635.3,508.4 L636.9,512.3 L630.6,514.7 L623.6,513.1Z" fill="#b0ffb0"/>
<path d="M598.6,488.9 L604.1,486.6 L613.4,486.6 L618.1,489.7 L616.6,493.6 L608.8,494.7 L600.9,493.6Z" fill="#66dd66"/>
<path d="M647.8,500.6 L655.6,498.3 L663.4,497.5 L668.1,499.1 L671.2,505.3 L674.4,511.6 L677.5,516.2 L674.4,519.4 L669.7,520.2 L666.6,524.1 L661.9,521.7 L655.6,519.4 L650.2,515.5 L647.0,510.0Z" fill="#66dd66"/>
<path d="M690.0,525.6 L697.8,522.5 L707.2,521.7 L715.0,520.2 L722.8,517.8 L724.4,521.7 L719.7,527.2 L715.0,531.9 L707.2,534.2 L699.4,533.4 L693.1,530.3Z" fill="#66dd66"/>
<path d="M679.8,506.9 L684.5,506.9 L685.3,511.6 L682.2,513.9 L679.8,511.6Z" fill="#66dd66"/>
<path d="M667.3,495.2 L679.1,492.8 L679.8,497.5 L680.6,506.9 L681.4,514.7 L677.5,513.9 L674.4,510.0 L671.2,506.1 L667.3,502.2Z" fill="#6cd4c2"/>
<path d="M604.8,517.8 L608.8,517.0 L613.4,520.2 L608.8,520.6Z" fill="#90ff90"/>
<path d="M608.8,524.8 L615.0,525.6 L621.2,530.3 L623.6,534.2 L619.7,535.0 L613.4,530.3Z" fill="#90ff90"/>
<path d="M665.0,552.2 L669.7,549.8 L674.4,553.8 L677.5,560.0 L682.2,561.6 L686.9,557.7 L685.3,552.2 L690.0,550.6 L696.2,553.8 L702.5,560.0 L708.8,564.7 L713.4,569.4 L707.2,569.4 L699.4,566.2 L691.6,564.7 L683.8,566.2 L677.5,564.7 L671.2,561.6 L666.6,556.9Z" fill="#b0ffb0"/>
<path d="M613.4,576.4 L618.1,578.8 L621.2,583.4 L617.3,583.4 L614.2,580.3Z" fill="#90ff90"/>
<path d="M715.0,578.8 L722.8,574.8 L730.6,571.7 L740.0,567.8 L750.0,563.9 L750.0,569.4 L740.0,572.5 L730.6,576.4 L722.8,580.3 L716.6,581.9Z" fill="#66dd66"/>
<path d="M690.0,589.7 L696.2,586.6 L704.1,585.0 L710.3,588.1 L715.0,592.8 L722.8,595.9 L730.6,595.2 L740.0,594.4 L746.2,595.9 L740.0,599.1 L730.6,600.6 L724.4,601.4 L718.1,603.8 L711.9,608.4 L705.6,610.0 L697.8,610.0 L696.2,606.1 L702.5,602.2 L699.4,599.1 L693.1,599.1 L690.0,594.4Z" fill="#90ff90"/>
<path d="M696.2,589.7 L700.9,587.3 L705.6,589.7 L704.8,594.4 L699.4,595.2 L696.2,592.8Z" fill="#66dd66"/>
<path d="M661.1,593.6 L666.6,592.8 L672.8,597.5 L677.5,599.1 L683.8,600.6 L690.0,604.5 L683.8,605.3 L677.5,603.8 L671.2,601.4 L663.4,600.6 L660.3,597.5Z" fill="#a2ffa2"/>
<path d="M686.9,580.3 L693.1,578.0 L702.5,577.2 L699.4,580.3 L691.6,582.7Z" fill="#a2ffa2"/>
<path d="M641.6,603.8 L646.2,602.2 L652.5,606.9 L657.2,608.4 L658.8,614.7 L655.6,620.0 L641.6,620.0 L636.9,616.2 L643.1,610.0Z" fill="#a2ffa2"/>
<path d="M674.4,585.0 L679.1,585.8 L677.5,589.7 L674.4,588.9Z" fill="#a2ffa2"/>
<path d="M668.1,606.9 L674.4,604.5 L679.1,608.4 L672.8,612.3 L668.1,610.8Z" fill="#a2ffa2"/>
<path d="M708.8,580.3 L715.0,581.1 L713.4,585.0 L708.8,583.4Z" fill="#a2ffa2"/>
<path d="M700.0,512.7 L709.4,511.9 L720.3,512.7 L729.7,511.9 L733.6,514.2 L731.2,518.1 L728.1,522.8 L726.6,529.1 L731.2,532.2 L726.6,536.9 L720.3,538.4 L712.5,536.9 L706.2,534.5 L700.0,535.3Z" fill="#90ff90"/>
<path d="M700.0,518.1 L707.8,519.7 L717.2,517.3 L723.4,515.8 L725.0,518.9 L720.3,524.4 L715.6,529.1 L707.8,532.2 L700.0,533.8Z" fill="#66dd66"/>
<path d="M741.4,508.8 L746.1,508.8 L745.3,511.1 L740.6,511.6Z" fill="#90ff90"/>
<path d="M742.2,525.2 L746.9,522.8 L753.1,522.0 L760.9,525.2 L768.8,526.7 L775.0,523.6 L771.9,527.5 L765.6,530.6 L757.8,533.0 L750.0,531.4 L744.5,529.1Z" fill="#90ff90"/>
<path d="M708.6,543.1 L715.6,541.6 L721.1,546.2 L720.3,550.9 L714.1,551.7 L709.4,549.4Z" fill="#90ff90"/>
<path d="M717.2,563.4 L721.1,564.2 L721.1,567.3 L717.2,567.3Z" fill="#90ff90"/>
<path d="M764.1,552.5 L770.3,551.7 L773.4,555.6 L768.8,558.8 L762.5,557.2Z" fill="#90ff90"/>
<path d="M731.2,574.4 L739.1,569.7 L746.9,566.6 L756.2,566.6 L746.9,571.2 L739.1,574.4 L731.2,577.5Z" fill="#90ff90"/>
<path d="M762.5,600.0 L760.9,590.0 L767.2,585.3 L773.4,579.1 L779.7,574.4 L784.4,569.7 L787.5,565.0 L793.8,565.0 L800.0,568.1 L806.2,565.0 L812.5,568.1 L818.8,569.7 L825.0,566.6 L832.8,567.3 L837.5,568.1 L832.8,572.8 L825.0,575.9 L820.3,580.6 L815.6,586.9 L809.4,590.0 L803.1,590.8 L800.0,588.4 L793.8,593.1 L789.1,596.2 L784.4,600.0Z" fill="#90ff90"/>
<path d="M762.5,593.1 L768.8,586.9 L775.0,580.6 L781.2,575.9 L787.5,572.8 L793.8,574.4 L796.9,577.5 L800.0,575.9 L806.2,579.1 L809.4,577.5 L814.1,572.8 L818.8,574.4 L815.6,580.6 L809.4,585.3 L803.1,586.9 L800.0,583.8 L793.8,585.3 L787.5,590.0 L781.2,594.7 L775.0,597.8 L768.8,600.0 L762.5,600.0Z" fill="#66dd66"/>
<path d="M700.0,577.5 L706.2,579.1 L712.5,580.6 L715.6,585.3 L709.4,587.7 L703.1,586.9 L700.0,585.3Z" fill="#90ff90"/>
<path d="M700.0,590.0 L707.8,591.6 L717.2,590.0 L726.6,590.0 L731.2,593.9 L739.1,594.7 L746.9,596.2 L743.8,600.0 L700.0,600.0Z" fill="#90ff90"/>
<path d="M618.9,630.0 L622.8,625.3 L627.5,621.4 L630.6,617.5 L636.9,613.6 L641.6,609.7 L641.6,603.4 L646.2,601.9 L649.4,605.0 L649.4,609.7 L654.1,608.1 L658.0,611.2 L658.8,615.9 L661.9,619.8 L660.3,623.0 L655.6,623.8 L652.5,620.6 L649.4,617.5 L644.7,619.1 L640.0,619.1 L635.3,622.2 L630.6,625.3 L625.9,628.4 L621.2,632.3Z" fill="#a2ffa2"/>
<path d="M661.1,594.1 L665.0,593.3 L671.2,595.6 L675.2,599.5 L674.4,602.7 L668.1,601.9 L661.9,600.3Z" fill="#a2ffa2"/>
<path d="M677.5,598.8 L683.8,600.3 L690.0,602.7 L688.4,605.8 L682.2,605.0 L677.5,602.7Z" fill="#a2ffa2"/>
<path d="M666.6,607.3 L672.8,605.0 L677.5,607.3 L674.4,611.2 L668.1,610.5Z" fill="#a2ffa2"/>
<path d="M668.1,619.1 L672.8,618.3 L674.4,622.2 L669.7,623.0Z" fill="#a2ffa2"/>
<path d="M671.2,625.3 L677.5,623.8 L680.6,627.7 L675.9,630.0 L672.0,628.4Z" fill="#a2ffa2"/>
<path d="M675.2,637.8 L679.1,637.0 L679.8,640.2 L675.9,640.9Z" fill="#a2ffa2"/>
<path d="M682.2,621.4 L685.3,621.4 L685.3,623.8 L682.2,623.8Z" fill="#a2ffa2"/>
<path d="M691.6,586.2 L697.8,584.7 L705.6,585.5 L708.8,589.4 L715.0,591.7 L722.8,590.2 L730.6,590.9 L740.0,593.3 L750.0,592.5 L750.0,598.0 L740.0,598.8 L730.6,600.3 L732.2,604.2 L727.5,605.8 L721.2,603.4 L715.0,605.0 L715.0,608.1 L708.8,608.9 L705.6,606.6 L700.9,609.7 L696.2,608.9 L697.8,605.0 L702.5,601.1 L697.8,599.5 L691.6,598.8 L690.8,594.1Z" fill="#90ff90"/>
<path d="M696.2,589.4 L702.5,587.0 L707.2,590.9 L704.1,594.1 L697.8,593.3Z" fill="#66dd66"/>
<path d="M699.4,606.6 L705.6,601.9 L713.4,598.0 L722.8,594.8 L730.6,594.1 L740.0,595.6 L747.8,595.6 L740.0,597.5 L730.6,598.0 L722.8,598.8 L715.0,601.9 L708.8,605.0 L702.5,608.1Z" fill="#66dd66"/>
<path d="M714.2,678.4 L716.6,680.0 L721.2,684.7 L723.6,690.9 L719.7,690.2 L716.6,686.2 L714.2,681.6Z" fill="#90ff90"/>
<path d="M677.5,586.2 L679.8,586.2 L679.8,590.9 L677.5,590.9Z" fill="#90ff90"/>
<path d="M742.3,636.2 L745.5,636.2 L745.5,638.6 L742.3,638.6Z" fill="#90ff90"/>
<path d="M759.7,588.8 L765.9,584.1 L773.8,579.4 L780.0,574.7 L784.7,570.0 L817.5,570.0 L817.5,580.9 L811.2,582.5 L811.2,587.2 L806.6,590.3 L801.9,588.8 L798.8,585.6 L795.6,591.9 L792.5,596.6 L789.4,601.2 L786.2,605.9 L783.1,610.6 L776.9,615.3 L770.6,615.3 L769.8,609.1 L770.6,602.8 L767.5,599.7 L762.8,596.6 L759.7,593.4Z" fill="#90ff90"/>
<path d="M759.7,588.8 L765.9,584.1 L773.8,580.2 L781.6,575.5 L789.4,574.7 L795.6,579.4 L792.5,585.6 L786.2,591.9 L781.6,595.0 L778.4,601.2 L775.3,607.5 L771.4,609.1 L770.6,602.8 L767.5,599.7 L762.8,595.8 L759.7,593.4Z" fill="#66dd66"/>
<path d="M789.4,570.0 L803.4,570.0 L808.1,574.7 L805.0,579.4 L798.8,576.2 L792.5,574.7Z" fill="#66dd66"/>
<path d="M781.6,601.2 L786.2,598.1 L788.6,601.2 L784.7,607.5 L780.8,609.1Z" fill="#66dd66"/>
<path d="M776.1,588.8 L779.2,588.0 L780.8,593.4 L778.4,598.9 L776.1,596.6Z" fill="#d8ffd8"/>
<path d="M817.5,570.0 L833.1,570.0 L831.6,574.7 L825.3,578.6 L819.1,577.0 L817.5,580.9Z" fill="#90ff90"/>
<path d="M730.0,593.4 L734.7,591.9 L740.9,593.4 L745.6,595.8 L744.1,598.9 L737.8,599.7 L730.0,597.3Z" fill="#66dd66"/>
<path d="M749.5,593.4 L755.0,592.7 L760.5,595.8 L761.2,598.9 L756.6,599.7 L750.3,597.3Z" fill="#90ff90"/>
<path d="M783.1,620.0 L786.2,615.3 L790.9,612.2 L797.2,612.2 L803.4,614.5 L804.2,617.7 L798.8,620.8 L792.5,622.3 L786.2,623.1Z" fill="#90ff90"/>
<path d="M790.2,614.5 L794.8,613.8 L796.4,616.1 L792.5,617.7Z" fill="#66dd66"/>
<path d="M741.7,636.4 L745.6,636.4 L745.6,638.3 L741.7,638.3Z" fill="#90ff90"/>
<path d="M783.1,638.8 L784.7,638.8 L784.7,641.1 L783.1,641.1Z" fill="#90ff90"/>
<path d="M730.0,574.7 L739.4,573.1 L750.3,570.0 L730.0,570.0Z" fill="#66dd66"/>
<path d="M372.0,187.0 L377.0,185.0 L382.0,186.0 L381.0,190.0 L375.0,191.0Z" fill="#a6ffa6"/>
<path d="M377.0,212.0 L383.0,212.0 L383.0,214.4 L377.0,214.4Z" fill="#a6ffa6"/>
<path d="M381.0,206.0 L385.0,206.0 L385.0,208.0 L381.0,208.0Z" fill="#a6ffa6"/>
<path d="M389.0,209.0 L392.6,211.0 L391.4,213.6Z" fill="#a6ffa6"/>
<path d="M428.1,210.0 L431.1,208.6 L432.7,213.0 L432.1,218.0 L429.1,215.0Z" fill="#a6ffa6"/>
<path d="M428.1,229.0 L430.7,229.0 L430.7,231.7 L428.1,231.7Z" fill="#a6ffa6"/>
<path d="M434.1,237.7 L436.7,237.7 L436.7,240.1 L434.1,240.1Z" fill="#a6ffa6"/>
<path d="M479.1,188.4 L493.1,187.6 L508.2,187.0 L508.2,188.6 L493.1,189.6 L481.1,191.0Z" fill="#a6ffa6"/>
<path d="M366.0,184.0 L368.6,184.0 L368.6,186.0 L366.0,186.0Z" fill="#a6ffa6"/>
<path d="M602.1,185.6 L624.1,185.0 L644.1,184.4 L660.1,184.2 L680.1,184.2 L700.2,184.4 L720.2,183.8 L745.0,183.8 L745.0,186.2 L720.2,186.2 L700.2,186.4 L680.1,186.8 L664.1,187.2 L644.1,186.4 L624.1,186.6 L604.1,187.2Z" fill="#a6ffa6"/>
<path d="M657.1,195.0 L662.1,196.0 L666.1,200.0 L668.1,206.0 L672.1,208.0 L670.1,212.0 L666.1,213.0 L665.1,219.0 L662.5,217.0 L663.1,210.0 L660.1,204.0 L652.1,207.0 L640.1,210.0 L644.1,207.0 L654.1,204.0 L658.1,200.0Z" fill="#a6ffa6"/>
<path d="M652.1,191.0 L656.1,191.0 L656.1,193.6 L652.1,193.6Z" fill="#a6ffa6"/>
<path d="M671.1,192.4 L675.1,192.4 L675.1,194.0 L671.1,194.0Z" fill="#a6ffa6"/>
<path d="M604.5,212.4 L608.1,212.4 L608.1,215.6 L604.5,215.6Z" fill="#a6ffa6"/>
<path d="M625.1,216.0 L630.1,216.0 L630.1,217.6 L625.1,217.6Z" fill="#a6ffa6"/>
<path d="M601.1,228.4 L606.5,228.4 L606.5,230.4 L601.1,230.4Z" fill="#a6ffa6"/>
<path d="M582.4,237.7 L585.6,237.7 L585.6,240.5 L582.4,240.5Z" fill="#a6ffa6"/>
<path d="M641.7,241.1 L644.1,241.1 L644.1,243.1 L641.7,243.1Z" fill="#a6ffa6"/>
<path d="M704.2,223.0 L714.2,219.0 L724.2,216.0 L732.2,213.0 L728.2,208.0 L740.2,210.0 L745.0,210.0 L745.0,215.0 L732.2,217.0 L726.2,221.0 L720.2,225.0 L716.2,224.0 L708.2,223.6Z" fill="#a6ffa6"/>
<path d="M735.0,183.8 L755.0,184.0 L785.0,184.4 L787.1,185.8 L771.0,186.4 L755.0,186.8 L735.0,186.4Z" fill="#a6ffa6"/>
<path d="M764.0,189.0 L771.0,189.0 L771.0,190.4 L764.0,190.4Z" fill="#a6ffa6"/>
<path d="M803.1,187.6 L806.1,187.6 L806.1,189.6 L803.1,189.6Z" fill="#a6ffa6"/>
<path d="M815.1,183.6 L825.1,183.6 L825.1,185.6 L815.1,185.6Z" fill="#a6ffa6"/>
<path d="M821.1,190.0 L827.1,192.0 L835.1,197.0 L843.1,198.0 L851.1,202.0 L859.1,204.0 L867.1,210.0 L863.1,212.0 L853.1,212.0 L845.1,211.0 L839.1,207.0 L833.1,202.0 L825.1,196.0Z" fill="#a6ffa6"/>
<path d="M840.1,193.0 L843.1,193.0 L843.1,196.0 L840.1,196.0Z" fill="#a6ffa6"/>
<path d="M849.1,193.0 L851.1,193.0 L851.1,195.0 L849.1,195.0Z" fill="#a6ffa6"/>
<path d="M857.1,198.0 L859.1,198.0 L859.1,200.0 L857.1,200.0Z" fill="#a6ffa6"/>
<path d="M871.1,213.0 L875.1,215.0 L883.1,217.0 L882.1,220.0 L875.1,219.0 L871.1,216.0Z" fill="#a6ffa6"/>
<path d="M889.2,230.0 L893.2,230.0 L893.2,234.1 L889.2,234.1Z" fill="#a6ffa6"/>
<path d="M868.1,197.0 L871.1,197.0 L871.1,199.0 L868.1,199.0Z" fill="#a6ffa6"/>
<path d="M789.1,226.0 L795.1,227.0 L803.1,231.0 L808.1,236.1 L806.1,239.1 L799.1,238.1 L793.1,232.1Z" fill="#a6ffa6"/>
<path d="M809.1,232.1 L815.1,232.5 L816.1,235.7 L811.1,236.5Z" fill="#a6ffa6"/>
<path d="M788.1,219.0 L792.1,219.0 L792.1,222.0 L788.1,222.0Z" fill="#a6ffa6"/>
<path d="M768.0,225.0 L771.0,225.0 L771.0,227.6 L768.0,227.6Z" fill="#a6ffa6"/>
<path d="M735.0,210.0 L741.0,210.0 L741.0,213.0 L735.0,213.0Z" fill="#a6ffa6"/>
<path d="M902.2,183.6 L906.2,183.6 L906.2,185.6 L902.2,185.6Z" fill="#a6ffa6"/>
<path d="M933.2,183.6 L937.2,183.6 L937.2,186.0 L933.2,186.0Z" fill="#a6ffa6"/>
<path d="M936.2,255.1 L937.6,255.1 L937.6,262.1 L936.2,262.1Z" fill="#a6ffa6"/>
<path d="M282.1,648.1 L287.1,648.1 L287.1,650.7 L282.1,650.7Z" fill="#a6ffa6"/>
<path d="M296.5,679.1 L302.5,677.7 L302.5,680.5 L298.1,681.5Z" fill="#a6ffa6"/>
<path d="M609.1,526.2 L614.1,525.2 L620.1,529.2 L623.1,534.2 L618.1,533.2 L612.1,529.2Z" fill="#a6ffa6"/>
<path d="M605.1,518.2 L611.1,518.2 L611.1,520.2 L605.1,520.2Z" fill="#a6ffa6"/>
<path d="M739.0,509.2 L746.0,509.2 L746.0,512.2 L739.0,512.2Z" fill="#a6ffa6"/>
<path d="M735.0,526.2 L743.0,522.2 L753.0,523.2 L763.0,526.2 L773.0,524.2 L775.0,526.2 L765.0,530.2 L755.0,531.2 L745.0,531.2 L735.0,531.2Z" fill="#a6ffa6"/>
<path d="M788.1,513.2 L790.1,513.2 L790.1,515.2 L788.1,515.2Z" fill="#a6ffa6"/>
<path d="M759.0,553.2 L773.0,552.2 L771.0,555.2 L763.0,558.2 L759.0,560.0Z" fill="#a6ffa6"/>
<path d="M839.1,200.0 L847.1,200.0 L855.1,205.0 L859.1,209.0 L851.1,210.0 L844.1,207.0Z" fill="#90ff90"/>
<path d="M795.1,229.0 L801.1,231.7 L804.1,236.1 L800.1,236.5Z" fill="#90ff90"/>
<path d="M415.1,477.1 L420.1,474.1 L427.1,475.1 L431.1,479.1 L438.1,481.1 L439.1,485.1 L435.1,488.1 L430.1,488.7 L427.1,485.1 L420.1,483.1 L416.1,481.1Z" fill="#a6d2fa"/>
<path d="M426.7,472.1 L430.7,472.1 L430.7,475.1 L426.7,475.1Z" fill="#a6d2fa"/>
<path d="M407.1,483.1 L410.1,483.1 L410.7,488.1 L408.1,487.1Z" fill="#a6d2fa"/>
<path d="M402.1,500.1 L409.1,506.1 L408.1,507.1 L401.7,502.1Z" fill="#a6d2fa"/>
<path d="M408.7,493.1 L414.1,490.7 L421.1,490.1 L428.1,491.1 L425.1,494.1 L421.1,496.1 L415.1,494.1 L409.1,495.1Z" fill="#a6d2fa"/>
<path d="M377.0,530.5 L378.6,518.8 L383.3,507.8 L387.2,501.6 L388.8,495.3 L391.9,492.2 L400.5,490.6 L395.0,496.9 L391.9,501.6 L388.0,507.8 L387.2,512.5 L384.1,518.8 L381.7,529.7Z" fill="#a6d2fa"/>
<path d="M839.4,400.3 L847.2,399.5 L842.5,403.4Z" fill="#a6d2fa"/>
<path d="M414.1,491.5 L421.1,490.7 L427.1,491.7 L422.1,495.1 L416.1,493.5Z" fill="#6fb0f5"/>
<path d="M377.0,531.2 L376.2,539.1 L377.0,550.0 L385.6,551.6 L390.3,543.8 L387.2,545.3 L393.4,550.0 L401.2,551.6 L403.6,556.2 M438.8,471.9 L445.0,471.1 L447.3,475.0 L443.4,481.2 L438.8,485.9 L434.1,490.6 L434.8,496.9 L430.9,501.6 L435.6,504.7 L438.8,510.9 L443.4,515.6 L448.1,520.3 L443.4,525.0 L437.2,528.1 L432.5,531.2 L434.1,537.5 L430.2,541.4 M424.7,545.3 L423.9,550.0 L428.6,553.1 L427.8,557.8 M395.0,513.3 L397.3,517.2 L401.2,515.6 L398.1,512.5 L395.0,513.3 M405.9,485.9 L401.2,490.6 L400.5,496.1 L405.9,496.9 M415.3,485.9 L423.1,487.5 L429.4,489.1" fill="none" stroke="#dedede" stroke-width="0.8" stroke-linejoin="round" stroke-linecap="round"/>
<path d="M936.2,332.1 L933.2,334.2 L935.2,338.2 L931.2,344.2 L925.2,347.2 L921.2,350.2 L913.2,355.2 L912.2,360.2 L909.2,366.2 L911.2,372.2 L917.2,375.2 L925.2,379.2 L929.2,384.2 M900.2,366.6 L907.2,362.2 L913.2,355.2 M911.2,355.0 L909.2,365.0 L915.2,374.0 L925.2,380.0 L936.2,385.0 M258.1,584.1 L256.1,590.1 L259.1,598.1 L259.1,607.1 L262.1,612.1 L270.1,614.1 L274.1,619.1 L282.1,617.1 L290.1,616.1 L294.1,613.1 M344.2,607.1 L343.2,598.1 L347.2,592.1 L355.0,589.1 M282.1,703.2 L288.1,697.2 L298.1,694.2 L310.2,696.2 L320.2,693.2 L330.2,694.2 L337.2,696.2 L338.2,703.2 M345.0,596.1 L351.0,590.1 L360.0,589.7 L365.0,583.1 L370.0,581.7 L375.0,588.1 L371.0,579.0 L379.0,576.0 L383.0,581.0 L390.0,584.1 L393.0,589.1 L404.1,591.1 L406.1,595.1 L404.1,600.1 L409.1,606.1 L405.1,610.1 L406.1,616.1 L413.1,621.1 L423.1,622.1 L429.1,624.1 L432.1,621.1 L438.1,624.1 L442.7,630.1 L444.1,638.1 L449.1,645.1 L451.1,656.1 L457.1,663.1 L467.1,672.1 L477.1,682.1 L489.1,688.2 L499.2,695.2 L509.2,703.2 M610.1,616.1 L616.1,610.1 L624.1,606.1 L630.1,609.1 L640.1,616.1 L646.1,620.1 L652.1,626.1 L660.1,630.1 L672.1,632.1 L668.1,636.1 L658.1,639.1 L654.1,645.1 L646.1,648.1 L642.1,652.1 L634.1,650.1 L626.1,652.1 L620.1,650.1 L614.1,644.1 L620.1,638.1 L622.1,634.1 M593.1,652.1 L595.1,643.1 L592.1,639.1 L598.1,638.1 L606.1,639.1 M580.0,655.1 L586.0,654.1 L583.0,662.1 L580.0,668.1 L576.0,672.1 L566.0,671.1 L558.0,672.1 L554.0,678.1 L556.0,684.2 L562.0,687.2 M593.1,660.1 L598.1,656.1 L608.1,654.1 L618.1,657.1 L620.1,664.1 L624.1,662.1 L622.1,655.1 L628.1,653.1 L633.1,660.1 L628.1,660.1 M594.1,668.1 L593.1,662.1 M606.1,668.1 L624.1,674.1 L636.1,670.1 L644.1,674.1 L656.1,678.1 M689.1,664.1 L688.1,658.1 L692.1,652.1 L700.2,648.1 L708.2,644.1 L712.2,639.1 L724.2,635.1 L726.2,641.1 L736.2,638.1 L742.2,630.1 L745.0,626.1 M568.0,695.2 L570.0,704.2 M624.1,703.2 L628.1,700.2 L634.1,702.2 M698.2,690.2 L706.2,690.2 L712.2,696.2 L714.2,704.2 M754.0,537.0 L756.0,544.0 L758.6,550.0 L758.0,556.0 M735.0,639.1 L741.0,634.1 L745.0,624.1 L749.0,619.1 L765.0,617.1 L773.0,614.1 L778.0,605.1 L787.1,597.1 L795.1,592.1 L802.1,588.1" fill="none" stroke="#b2b2b2" stroke-width="0.8" stroke-linejoin="round" stroke-linecap="round"/>
<path d="M829.2,369.1 L834.7,371.4 L839.4,373.0 L845.6,376.1 L851.1,376.9 L845.6,380.0 L840.2,383.9 L835.5,388.6 L834.7,392.5 L836.2,396.4 M833.1,368.3 L837.0,369.8 L837.8,372.2" fill="none" stroke="#7db8f2" stroke-width="0.9" stroke-linejoin="round" stroke-linecap="round"/>
<path d="M154.0,267.1 L157.0,274.1 L161.0,279.1 L168.0,275.7 L180.0,277.5 L190.0,274.1 L200.0,274.7 L207.1,272.5 L210.1,274.1 L211.1,278.1 L208.1,282.5 L200.0,286.1 L197.0,290.1 L196.4,298.1 L198.0,304.1 L204.1,305.7 L220.1,305.7 L230.1,309.1 L243.1,310.1 L252.1,316.1 L262.1,318.1 L270.1,318.5 L275.1,318.1 L278.1,321.1 L282.1,325.1 L290.1,329.1 L302.1,336.2 L308.2,337.8 L316.2,336.6 L324.2,340.2 L328.2,338.2 L334.2,334.6 L342.2,335.2 L346.2,335.8 M154.0,368.6 L162.0,375.2 L174.0,377.2 L190.0,380.2 L210.1,385.0 M394.6,183.0 L394.0,188.0 L396.0,196.0 L398.1,206.0 L401.1,213.0 L406.1,215.6 L411.1,214.4 L415.5,217.0 L418.1,222.0 L419.1,229.0 L417.5,237.1 L414.1,241.1 L405.1,245.1 L398.1,249.1 L394.6,254.1 L393.0,260.1 L387.0,268.1 L381.0,278.1 L375.0,286.1 L372.0,292.1 L371.4,298.1 L369.0,301.1 L364.0,302.5 L362.6,307.1 L364.0,314.1 L368.0,319.1 L371.4,323.1 L372.0,332.1 L371.0,340.2 L366.0,342.2 L359.0,341.2 L353.0,338.2 L345.0,336.6 M403.5,218.0 L406.1,220.0 L406.9,223.6 L405.7,227.0 L403.1,228.2 L400.9,226.4 L400.3,222.4 L401.7,219.2 L403.5,218.0 M397.7,234.5 L400.5,236.7 L398.1,237.7 L397.7,234.5 M514.2,183.0 L519.2,187.0 L529.2,189.0 L550.0,191.0 M448.1,289.1 L450.1,280.1 L457.1,275.1 L469.1,273.7 L485.1,274.1 L493.1,275.1 L496.1,276.1 L498.1,281.1 L500.8,284.1 L503.2,281.1 L504.2,275.1 L507.2,273.1 L511.2,276.1 L515.2,282.1 L519.2,292.1 L521.2,302.1 L522.2,309.1 L526.2,312.5 L530.2,311.1 L533.2,304.1 L537.2,298.1 L543.2,293.1 L548.2,291.3 L550.4,292.5 L549.6,299.1 M549.6,299.1 L545.2,308.1 L539.2,314.1 L533.2,317.1 L525.2,320.1 L517.2,322.1 L512.2,326.1 L509.2,336.2 L505.2,342.2 L501.2,344.6 L497.1,341.2 L494.1,334.2 L489.1,330.5 L481.1,332.1 L469.1,330.5 L459.1,327.1 L453.1,324.1 L452.1,318.1 L449.1,312.1 L447.1,304.1 L446.7,296.1 L448.1,289.1 M540.0,189.0 L550.0,191.0 L560.0,194.0 L580.0,196.0 L600.1,198.0 L620.1,202.0 L636.1,204.0 L652.1,203.6 L662.1,204.0 L672.1,206.0 L690.1,205.6 L716.2,204.4 L745.0,201.0 M636.1,298.1 L639.1,293.1 L646.1,290.7 L654.1,289.1 L665.1,290.5 L670.1,286.1 L680.1,284.5 L700.2,284.7 L712.2,283.1 L720.2,280.1 L730.2,279.1 L738.2,282.1 L745.0,285.1 M636.1,298.1 L639.1,306.1 L644.1,316.1 L652.1,322.5 L662.1,327.1 L680.1,332.1 L692.1,337.2 L704.2,342.2 L720.2,346.6 L734.2,348.2 L738.2,340.2 L737.2,334.2 L735.2,328.1 L737.2,322.1 L742.2,318.1 L745.0,318.1 M636.1,373.2 L642.1,371.2 L649.1,372.2 L654.1,378.2 L664.1,377.2 L676.1,375.2 L684.1,373.8 M640.1,284.1 L641.7,282.5 L643.3,284.1 L641.7,285.7 L640.1,284.1 M735.0,205.6 L764.0,201.0 L781.0,198.0 L793.1,196.0 L801.1,192.0 L815.1,189.0 L829.1,190.0 L843.1,187.6 L851.1,185.0 L855.1,183.0 M867.1,194.0 L875.1,192.0 L887.1,191.6 L892.2,195.0 L894.2,202.0 L894.2,212.0 L899.2,216.0 L907.2,219.0 L914.2,222.0 L915.2,227.0 L913.8,234.1 L913.2,240.1 L909.2,242.1 L901.2,241.1 L895.2,238.1 L889.2,231.0 L884.1,228.0 L879.1,226.0 L875.1,219.0 L871.1,210.0 L868.1,202.0 L866.1,197.0 L867.1,194.0 M937.2,265.1 L932.2,268.1 L926.2,272.1 L921.2,279.1 L915.2,279.1 L909.2,282.1 L899.2,288.1 L894.2,294.1 L891.2,302.1 L885.1,304.1 L875.1,306.1 L869.1,308.1 L868.1,317.1 L863.1,318.1 L851.1,317.7 L841.1,319.1 L833.1,322.1 L829.1,328.1 L821.1,332.1 M937.6,295.7 L934.6,299.1 L937.6,302.5 M735.0,280.1 L742.0,285.1 L755.0,283.1 L765.0,281.7 L768.6,283.1 L763.0,293.1 L758.0,305.1 L753.0,314.1 L745.0,318.1 M821.1,333.1 L826.1,338.2 L828.1,344.2 L826.1,350.2 L825.1,358.2 L827.1,364.2 M154.0,368.6 L162.0,375.0 L174.0,376.6 L184.0,378.0 L202.1,383.0 L216.1,387.0 L230.1,392.0 L244.1,397.0 L258.1,402.0 L274.1,406.0 L290.1,410.1 L310.2,416.1 L326.2,422.1 L338.2,430.1 L348.2,435.1 L355.0,437.1 M154.0,435.1 L160.0,435.1 L168.0,440.1 L176.0,448.1 L184.0,457.1 L192.0,466.1 L202.1,473.1 L216.1,479.1 L230.1,484.1 L244.1,487.1 L258.1,489.5 L270.1,495.1 L286.1,502.1 L300.1,509.2 L310.2,517.2 L320.2,525.2 L330.2,532.2 L340.2,539.2 L350.2,545.2 L355.0,547.2 M154.0,527.2 L159.0,531.2 L163.0,539.2 L167.0,548.2 L170.0,557.2 L171.0,560.0 M345.0,434.1 L355.0,436.1 L369.0,437.5 L385.0,438.1 L391.0,441.1 L394.0,447.1 L397.1,452.1 L403.1,453.5 L413.1,449.1 L421.1,446.7 L425.1,449.1 L424.1,455.1 L427.1,457.1 L435.1,453.1 L445.1,450.7 L457.1,446.1 L469.1,440.1 L481.1,434.1 L493.1,427.1 L505.2,420.1 L515.2,414.1 L525.2,408.1 L535.2,402.0 L541.2,397.0 L550.0,396.0 M540.0,397.0 L552.0,396.0 L566.0,396.6 L576.0,398.6 L584.0,402.0 L592.1,401.0 L604.1,396.0 L614.1,389.0 L624.1,383.0 L632.1,378.0 L638.1,374.0 L644.1,371.4 L649.1,371.4 L652.1,376.0 L656.1,378.6 L664.1,377.0 L676.1,375.0 L684.1,374.6 L696.2,376.0 L706.6,382.6 L720.2,388.0 L745.0,394.0 M558.0,532.2 L570.0,533.2 L584.0,534.2 L600.1,533.2 L612.1,532.2 L619.1,536.2 L622.5,543.2 L621.1,552.2 L618.1,560.0 M557.0,540.2 L566.0,547.2 L576.0,553.2 L588.0,560.0 M753.4,396.0 L761.0,399.4 L771.0,401.4 L778.0,396.0 L789.1,392.0 L801.1,389.4 L808.1,386.0 L811.1,380.0 L815.1,375.0 L823.1,373.0 L831.1,375.0 L835.5,380.0 L834.1,385.0 L829.1,389.0 L823.1,390.0 M821.1,392.0 L815.1,397.0 L814.1,403.0 L818.1,410.1 L824.1,416.1 L833.1,420.1 L843.1,419.1 L855.1,416.1 L865.1,416.1 L871.1,413.1 L873.5,408.1 L871.1,404.6 L868.1,404.0 M803.1,434.1 L806.1,430.7 L811.1,430.1 L813.7,432.7 L811.1,435.5 L806.1,436.7 L803.1,434.1 M834.1,466.1 L839.1,464.1 L851.1,463.1 L861.1,463.7 L864.7,467.1 L863.1,474.1 L857.1,480.1 L851.1,483.1 L844.1,482.7 L837.1,479.1 L833.5,475.1 L834.1,466.1 M786.7,492.7 L789.1,485.1 L795.1,477.1 L803.1,472.1 L813.1,471.5 L823.1,476.1 L829.1,485.1 L830.7,489.5 L823.1,488.1 L815.1,492.1 L808.1,496.1 L811.1,491.1 L809.1,489.1 L803.1,493.1 L793.1,494.5 L786.7,492.7 M839.1,491.1 L831.1,492.1 L823.1,494.1 L816.1,498.1 L818.1,502.1 L825.1,505.1 L831.1,510.2 L839.1,513.2 L847.1,513.2 L855.1,509.2 L865.1,507.5 L879.1,508.8 L895.2,507.5 L911.2,506.7 L925.2,507.1 L937.2,509.6 M820.1,529.2 L825.1,526.8 L833.1,527.6 L843.1,531.2 L855.1,531.2 L863.1,532.2 L859.1,536.2 L849.1,538.8 L839.1,537.2 L829.1,534.2 L821.1,532.2 L820.1,529.2 M797.1,501.1 L789.1,504.1 L783.0,509.2 L782.0,515.2 L779.0,521.2 L773.0,526.2 L765.0,531.2 L757.0,534.2 L752.0,536.2 L754.0,543.2 L758.0,549.2 L758.6,555.2 L758.0,560.0 M158.0,530.0 L163.0,536.0 L167.0,546.0 L170.0,558.0 L175.0,568.0 L180.0,577.0 L185.0,587.1 L190.0,595.1 L193.0,593.1 L197.0,589.1 L204.1,589.1 L214.1,592.1 L224.1,594.1 L230.1,592.1 L237.1,586.1 L241.1,580.0 L245.1,575.0 L250.1,574.0 L256.1,575.0 L264.1,579.0 L274.1,581.0 L282.1,580.0 L288.1,583.1 L294.1,589.1 L300.1,594.1 L308.2,599.1 L316.2,603.1 L326.2,607.1 L336.2,613.1 L346.2,614.1 L355.0,615.1 M154.0,568.0 L157.0,565.0 L158.0,560.0 L155.0,556.0 L154.0,555.0 M154.0,572.0 L160.0,577.0 L165.0,581.0 L167.0,584.1 L164.0,585.7 L159.0,583.1 L154.0,579.0 M154.0,588.1 L157.0,594.1 L158.0,602.1 L156.0,610.1 L154.0,612.1 M333.2,530.0 L338.2,536.0 L346.2,542.0 L355.0,547.0 M345.2,704.2 L344.2,700.2 L348.2,698.2 L355.0,699.2 M345.0,542.0 L357.0,548.0 L377.0,556.0 L399.1,559.6 L413.1,557.6 L429.1,561.0 L447.1,565.6 L465.1,567.0 L481.1,570.0 L495.1,573.0 L511.2,576.0 L523.2,578.0 L533.2,579.0 L543.2,576.4 L547.2,580.0 L550.0,581.0 M345.0,614.1 L355.0,616.1 L371.0,622.1 L389.0,630.1 L405.1,639.1 L419.1,650.1 L433.1,661.1 L447.1,672.1 L461.1,684.2 L473.1,695.2 L483.1,704.2 M345.0,699.2 L351.0,698.2 L355.0,701.2 L354.0,704.2 M358.0,704.2 L361.0,700.2 L371.0,698.8 L381.0,701.2 L386.0,704.2 M512.2,704.2 L517.2,701.2 L524.2,700.8 L530.2,704.2 M570.0,533.0 L584.0,534.0 L600.1,533.6 L612.1,532.4 L619.1,536.0 L622.5,543.0 L621.1,552.0 L618.1,560.0 L620.1,568.0 L622.5,574.0 L617.1,575.0 L611.1,571.0 L604.1,564.0 L598.1,562.0 L588.0,560.0 L576.0,554.0 L566.0,547.0 L559.0,541.0 L557.6,539.0 M540.0,576.4 L545.0,578.0 L549.0,585.1 L556.0,587.1 L564.0,584.1 L572.0,580.0 L580.0,578.4 L587.0,581.0 L592.5,590.1 L597.1,602.1 L600.1,612.1 L602.1,622.1 L608.1,630.1 L609.1,639.1 L614.1,638.1 L624.1,632.1 L634.1,624.1 L642.1,619.1 L650.1,616.5 L658.1,621.1 L666.1,623.1 L674.1,624.1 L680.1,630.1 L682.5,636.1 L680.1,643.1 L674.1,648.1 L666.1,651.1 L658.1,653.1 L654.1,658.1 L648.1,660.1 L640.1,661.1 L634.1,665.1 L630.1,668.1 L620.1,668.5 L606.1,668.1 L596.1,671.1 L588.0,677.1 L578.0,683.1 L568.0,685.2 L560.0,688.2 L557.0,691.2 L558.0,695.2 L566.0,694.6 L580.0,692.6 L596.1,693.2 L608.1,694.2 L613.1,697.8 L614.5,704.2 M646.1,704.2 L649.1,698.2 L646.1,692.2 L644.1,686.2 L649.1,682.5 L656.1,681.1 L660.1,678.1 L661.1,674.1 L668.1,671.1 L676.1,670.5 L683.1,668.1 L687.1,671.1 L690.1,676.1 L694.2,681.1 L693.1,686.2 L689.1,688.2 L686.1,684.2 L684.1,678.1 L680.1,676.1 L677.1,680.1 L676.1,686.2 L671.1,690.2 L666.1,694.2 L664.1,704.2 M673.5,677.7 L673.1,679.4 L671.8,680.7 L670.1,681.1 L668.4,680.7 L667.2,679.4 L666.7,677.7 L667.2,676.0 L668.4,674.8 L670.1,674.3 L671.8,674.8 L673.1,676.0 L673.5,677.7 M685.3,695.8 L684.9,697.4 L683.7,698.5 L682.1,699.0 L680.5,698.5 L679.4,697.4 L678.9,695.8 L679.4,694.2 L680.5,693.0 L682.1,692.6 L683.7,693.0 L684.9,694.2 L685.3,695.8 M659.1,690.2 L660.5,693.2 L658.7,696.2 L657.5,693.2 L659.1,690.2 M699.2,638.1 L706.2,635.1 L712.2,630.1 L718.2,627.7 L724.2,627.7 L724.2,633.1 L718.2,637.1 L712.2,642.1 L707.2,646.1 L702.2,643.1 L699.2,638.1 M745.0,692.2 L736.2,687.2 L728.2,682.1 L720.2,677.1 L715.2,674.5 L717.2,682.1 L722.2,690.2 L727.2,698.2 L730.2,704.2 M696.2,704.2 L699.2,699.2 L704.2,702.2 L706.2,704.2 M745.0,573.0 L736.2,575.0 L726.2,579.0 L719.2,583.1 L714.2,588.1 L714.2,592.1 L718.2,594.1 L726.2,590.1 L736.2,589.1 L745.0,592.1 M707.2,667.1 L710.2,668.1 L709.8,669.7 L707.2,668.5 L707.2,667.1 M820.1,531.0 L829.1,534.0 L841.1,538.0 L852.1,537.6 L863.1,533.0 L859.1,531.6 M735.0,576.0 L747.0,573.0 L759.0,569.0 L765.0,567.6 L785.0,567.6 L782.0,571.0 L775.0,576.0 L765.0,583.1 L755.0,588.1 L745.0,591.1 L735.0,592.5 M808.1,569.0 L815.1,567.0 L822.1,566.0 L823.1,568.0 L819.1,571.0 L814.1,576.0 L811.1,581.0 L805.1,583.1 L802.1,586.1 L804.1,590.1 L809.1,591.1 L817.1,588.1 L825.1,584.1 L831.1,580.0 L835.1,575.0 L843.1,573.0 L849.1,570.0 L855.1,565.0 L863.1,563.6 L871.1,565.6 L874.1,570.0 L871.1,574.0 L863.1,577.0 L857.1,580.0 L857.1,588.1 L861.1,594.1 L867.1,600.1 L875.1,602.5 L887.1,602.5 L895.2,603.7 L903.2,605.1 L911.2,602.1 L923.2,599.1 L932.2,597.1 L933.6,602.1 L932.2,612.1 L927.2,622.1 L918.2,628.1 L913.2,638.1 L905.2,645.1 L893.2,649.1 L879.1,651.1 L867.1,656.1 L855.1,662.1 L843.1,667.1 L839.1,673.1 L831.1,681.1 L821.1,690.2 L811.1,695.2 L795.1,696.2 L775.0,697.2 L764.0,697.8 L762.0,702.2 L763.0,704.2 M784.4,588.1 L786.0,583.7 L790.1,581.7 L793.5,584.1 L794.3,589.1 L792.1,593.1 L788.1,594.1 L785.0,591.7 L784.4,588.1 M747.4,613.1 L750.0,609.5 L756.0,608.5 L761.0,611.1 L762.4,615.1 L760.0,618.5 L754.0,619.1 L749.0,617.1 L747.4,613.1 M764.6,625.1 L769.0,622.1 L778.0,618.7 L780.6,620.5 L776.0,624.5 L769.0,628.1 L765.0,627.1 L764.6,625.1 M735.0,684.2 L741.0,688.2 L747.0,694.2 L748.6,704.2 M917.2,703.8 L922.2,701.2 L927.2,701.8 L928.8,704.2 M937.2,692.2 L932.2,694.2 L930.2,698.2 L932.2,702.2 L936.2,703.8 M937.2,564.0 L935.6,566.6 L937.2,569.0" fill="none" stroke="#1a1a1a" stroke-width="1.0" stroke-linejoin="round" stroke-linecap="round"/>
<path d="M695.5,268.8 L699.4,273.4 L708.8,279.7 L718.1,286.7 L727.5,296.9 L736.9,307.8 L746.2,318.8 L755.6,332.8 L763.4,345.3 L767.3,349.2" fill="none" stroke="#222" stroke-width="1.3" stroke-linejoin="round" stroke-linecap="round"/>
<path d="M623.7,596.1 L626.1,588.1 L630.1,583.1 L638.1,581.7 L648.1,582.5 L658.1,583.7 L660.1,586.5 L668.1,587.1 L674.1,589.1 L673.7,580.0 L674.5,573.0 L680.1,569.0 L688.1,566.0 L696.2,569.0 L704.2,572.0 L713.2,573.0 L719.2,571.0" fill="none" stroke="#222" stroke-width="1.6" stroke-linejoin="round" stroke-linecap="round"/>
<path d="M355.0,506.1 L336.2,509.2 L334.2,525.2 L331.2,545.2 L329.2,560.0 M345.0,508.1 L365.0,504.1 L387.0,500.7 L395.0,508.1 L405.1,518.2 L415.1,529.2 L425.1,539.2 L431.1,544.2 L435.1,544.2 L439.1,550.2 L445.1,560.0 M838.1,434.7 L836.1,449.1 L834.1,463.1 L832.1,475.1 L831.1,482.1 M254.1,583.1 L261.1,579.0 L270.1,576.0 L280.1,574.4 L290.1,575.0 L296.1,580.0 L302.1,586.1 L304.2,590.1 L305.2,596.1 L308.2,603.1 L312.2,608.5 L321.2,608.1 L323.2,600.1 L325.2,586.1 L328.2,566.0 L331.2,546.0 L333.2,530.0 M416.1,530.0 L425.1,539.0 L430.1,543.6 L434.1,543.6 L441.1,553.0 L447.1,562.0 L457.1,561.0 L475.1,559.0 L497.1,561.0 L508.2,557.0 L511.2,564.0 L518.2,571.0 L522.2,582.1 L527.6,581.0 L527.6,596.1 L525.2,599.1 L525.2,607.1 L536.2,608.7 L537.2,626.1 L550.0,627.1" fill="none" stroke="#222" stroke-width="1.7" stroke-linejoin="round" stroke-linecap="round"/>
<path d="M183.0,384.2 L193.0,372.2 L197.6,367.2 L194.0,361.2 L199.0,349.2 L206.1,346.2 L209.7,338.2 L214.1,335.2 L218.1,340.2 L222.1,352.2 L225.1,355.8 L232.5,353.2 L233.7,348.2 L233.1,335.2 L238.1,334.2 L248.1,331.1 L249.1,326.1 L258.1,325.1 L267.1,321.1 L271.1,317.1 L275.1,313.7 L278.1,317.1 L283.7,317.7 L284.5,322.1 L290.1,323.1 L293.1,320.1 L301.1,319.1 L303.1,326.1 L310.2,327.1 L316.2,329.1 L321.2,334.2 L321.2,338.2 L327.2,341.2 L329.2,346.2 L333.2,350.2 L331.8,356.2 L336.2,351.2 L343.2,350.2 L345.2,355.2 L351.2,359.2 L355.0,358.2 M331.8,356.2 L329.2,363.2 L330.2,372.2 L326.2,378.2 L320.2,381.2 L313.2,384.2 M345.0,354.2 L352.0,359.2 L359.0,356.2 L362.0,351.2 L367.0,350.2 L370.0,348.2 L373.0,351.2 L379.0,350.2 L384.0,355.2 L388.0,354.2 L390.0,350.2 L398.1,351.2 L402.1,354.2 L404.1,360.2 L411.1,364.2 L418.1,368.2 L425.1,366.2 L427.1,361.2 L430.1,366.2 L439.1,367.2 L449.1,365.2 L452.1,361.2 L454.1,352.2 L449.1,346.2 L443.1,343.2 L437.1,339.2 L432.1,334.2 L430.1,331.1 L439.1,326.1 L447.1,323.1 L446.1,317.1 L443.1,312.1 L448.1,308.1 L449.1,305.1 L457.1,305.1 L465.1,306.1 L466.1,302.5 L460.1,299.1 L453.1,298.1 L451.1,294.1 L457.1,291.1 L454.1,289.1 L448.1,288.1 L450.1,284.1 L450.1,279.1 L454.1,276.1 L460.1,278.1 L467.1,278.1 L474.1,281.1 L477.1,278.1 L485.1,276.1 L493.1,274.1 L503.2,272.1 L513.2,270.1 L518.2,266.1 L524.2,265.1 L528.2,262.1 L532.2,263.1 L550.0,259.1 M454.1,352.2 L460.1,353.2 L463.1,358.2 L466.1,363.2 L466.7,370.2 L470.1,378.2 L473.1,385.0 M532.2,263.1 L531.2,270.1 L535.2,278.1 L532.2,284.1 L535.2,292.1 L534.2,300.1 L537.2,305.1 L532.2,308.1 L530.2,318.1 L530.2,326.1 L528.2,334.2 L524.2,340.2 L519.2,342.2 L521.2,348.2 L520.2,356.2 L523.2,364.2 L529.2,368.2 L537.2,372.2 L545.2,374.2 L550.0,378.2 M530.2,326.1 L537.2,328.1 L545.2,329.1 L550.0,329.1 M540.0,261.7 L549.0,259.1 L556.0,257.1 L560.0,254.1 L565.0,253.1 L564.4,249.1 L571.0,248.1 L573.0,244.1 L577.0,242.5 L583.0,244.5 L589.0,244.5 L595.1,249.1 L599.1,245.1 L604.5,244.5 L608.1,251.1 L609.1,260.1 L610.1,268.1 L609.1,272.1 L613.1,276.1 L620.1,275.7 L623.1,272.1 L628.1,271.1 L632.1,275.1 L634.1,280.1 L640.1,276.1 L646.1,278.1 L649.7,275.1 L652.5,275.7 L652.1,280.1 L648.1,283.1 L646.5,289.1 L651.1,289.1 L658.1,286.1 L662.1,288.1 L665.1,290.1 L666.1,285.1 L672.1,281.1 L678.1,276.1 L680.1,272.1 L686.1,269.1 L692.1,264.1 L698.2,261.1 L701.8,259.1 L701.2,264.1 L699.2,267.7 L695.2,268.1 M540.0,329.1 L551.0,329.7 L553.0,325.1 L560.0,328.1 L564.0,322.1 L573.0,316.1 L576.0,311.1 L577.0,302.1 L573.0,299.1 L573.0,294.1 L577.0,291.1 L582.0,290.1 L587.0,289.1 L592.1,289.7 L593.7,294.1 L600.1,297.1 L608.1,298.1 L616.1,296.1 L620.1,298.1 L623.1,302.1 L624.1,307.1 L632.1,307.1 L638.1,305.1 L641.1,305.1 L643.1,311.1 L650.1,312.1 L656.1,314.1 L660.1,312.1 L660.1,306.1 L656.1,304.1 L655.1,300.1 L651.1,298.1 L649.7,292.1 L647.1,289.7 M660.1,312.1 L661.7,320.1 L662.5,332.1 L660.1,338.2 L662.1,342.2 L667.1,342.6 L663.1,346.2 L662.1,352.2 L665.1,358.2 L664.1,366.2 L668.1,368.2 L676.1,368.2 L680.1,371.2 L684.1,375.2 L687.1,378.2 L683.1,381.2 L688.1,379.2 L698.2,376.2 L708.2,373.2 L712.2,370.2 L713.2,364.2 L717.2,361.2 L723.2,363.2 L728.2,367.2 L729.2,372.2 L736.2,374.2 L745.0,373.2 M540.0,373.2 L548.0,374.2 L550.0,379.2 L558.0,378.2 L563.0,380.2 L565.0,373.2 L570.0,372.2 L577.0,369.2 L579.0,378.2 L578.0,385.0 M585.0,385.0 L588.0,380.2 L592.1,381.2 L594.1,385.0 M608.1,385.0 L613.1,378.2 L618.1,374.2 L622.1,369.2 L626.1,367.2 L629.1,370.2 L630.1,375.2 L635.1,374.2 L640.1,369.2 L644.1,364.2 L651.1,359.2 L657.1,354.2 L662.1,352.2 M745.0,335.2 L740.2,340.2 L735.2,345.2 L736.2,350.2 L740.2,354.2 L745.0,356.2 M735.0,344.2 L742.0,340.2 L744.0,334.2 L750.0,329.1 M735.0,346.2 L738.0,350.2 L745.0,356.2 L748.0,364.2 L745.0,372.2 L739.0,374.2 L735.0,373.2 M767.0,349.8 L772.0,345.2 L772.0,338.2 L776.0,334.2 L783.0,335.2 L784.0,340.2 L789.1,340.2 L792.1,345.2 L795.1,344.2 L803.1,342.2 L811.1,339.2 L812.1,335.2 L817.1,334.2 L821.1,333.1 L829.1,334.2 L836.1,339.2 L840.1,347.2 L844.1,350.2 L851.1,351.2 L855.1,354.2 L859.1,359.2 L863.1,361.2 L873.1,361.8 L878.1,362.2 L880.1,357.2 L884.1,352.2 L887.1,353.2 L886.1,357.2 L890.2,360.2 L893.2,364.2 L900.2,366.2 L895.2,369.2 L892.2,374.2 L893.2,380.2 L892.2,385.0 M795.1,344.2 L797.1,350.2 L798.1,357.2 L793.1,359.2 L793.1,365.2 L799.1,369.2 L803.1,375.2 L809.1,378.2 L815.1,382.2 L822.1,385.0 M197.0,355.0 L195.0,361.0 L198.0,367.0 L193.0,371.0 L187.0,377.0 L183.0,382.6 L190.0,390.0 L206.1,397.0 L220.1,403.0 L230.9,408.7 L240.3,407.9 L248.1,403.8 L257.5,401.6 L266.9,402.2 L276.3,405.0 L284.1,407.9 L288.1,408.1 L291.1,403.0 L294.1,396.0 L302.1,394.0 L311.2,392.0 L312.2,386.0 L316.2,382.0 L324.2,379.0 L328.2,375.0 L329.2,367.0 L331.2,360.0 L333.2,355.0 M190.0,390.0 L188.0,397.0 L189.0,402.0 L193.0,406.0 L198.0,405.0 L205.1,408.1 L208.1,414.1 L212.1,419.1 L213.1,427.1 L215.1,435.1 L213.1,439.1 L208.1,436.1 L205.7,439.1 L209.1,444.1 L214.1,449.1 L219.1,452.1 L224.1,454.1 L227.1,453.1 M237.1,527.2 L238.1,535.2 L239.1,542.2 L244.1,544.2 L246.1,550.2 L250.1,553.2 L258.1,555.2 L263.1,560.0 M278.1,483.1 L282.1,481.1 L290.1,480.7 L298.1,477.1 L303.1,472.1 L310.2,471.1 L320.2,470.7 L328.2,471.5 L332.2,468.7 L337.2,475.1 L342.2,476.1 L347.2,480.1 L349.2,491.1 L350.2,506.1 M313.2,393.0 L316.2,397.0 L317.2,405.0 L322.2,407.1 L325.2,404.0 L329.2,408.1 L329.2,421.1 L330.2,431.1 L328.2,441.1 L326.2,449.1 L329.2,457.1 L334.2,464.1 L342.2,469.1 L347.2,472.1 L348.2,480.1 M345.0,355.0 L352.0,359.0 L359.0,357.0 L361.0,355.0 M402.1,355.0 L403.1,361.0 L411.1,364.0 L418.1,369.0 L425.1,366.0 L427.1,361.0 L430.1,365.0 L439.1,367.0 L449.1,365.0 L452.1,361.0 L454.1,355.0 M460.1,355.0 L463.1,359.0 L466.1,364.0 L466.7,370.0 L470.1,378.0 L474.1,387.0 L474.7,391.0 L470.1,392.0 L467.1,397.0 L463.1,401.0 L465.1,407.1 L462.1,410.1 L465.1,414.1 L471.1,418.1 L475.1,421.1 L477.1,425.1 L485.1,428.1 L489.1,432.1 L495.1,430.7 L501.2,429.1 L500.2,425.1 L505.2,424.1 L506.2,419.1 L515.2,420.1 L523.2,420.1 L525.2,417.1 L533.2,415.1 L538.2,409.1 L543.2,406.0 L550.0,400.0 M520.2,355.0 L523.2,363.0 L524.2,368.0 L529.2,367.0 L535.2,372.0 L543.2,374.0 L549.2,376.0 L550.0,381.0 M489.1,432.1 L495.1,439.1 L496.1,445.1 L485.1,453.1 L475.1,460.1 L464.1,467.1 M395.0,508.1 L396.0,491.1 L405.1,480.1 L413.1,472.1 L419.1,468.1 L424.7,468.1 L425.5,464.1 L433.1,463.1 L438.1,453.1 L441.1,447.1 L451.1,446.1 L454.1,451.1 L459.1,458.1 L464.1,464.1 L473.1,469.1 L485.1,474.1 L497.1,479.1 L509.2,483.1 L515.2,488.1 L525.2,492.1 L541.2,496.1 L550.0,496.1 M345.0,470.1 L348.0,475.1 L349.4,483.1 L350.0,495.1 L350.0,507.1 M540.0,373.0 L548.0,374.0 L550.0,380.0 L558.0,378.6 L563.0,380.6 L565.0,373.4 L570.0,372.0 L577.0,369.4 L579.0,378.0 L578.0,384.0 L585.0,386.0 L588.0,380.6 L592.1,381.4 L594.1,385.0 L602.1,384.0 L604.1,388.0 L608.1,385.0 L613.1,378.0 L618.1,374.0 L622.1,369.4 L626.1,367.4 L629.1,370.0 L630.1,375.0 L635.1,374.0 L640.1,369.4 L644.1,364.6 L651.1,359.4 L657.1,355.0 M563.0,380.6 L559.0,385.0 L557.0,392.0 L552.0,398.0 L546.0,404.0 L540.0,408.1 M557.0,392.0 L560.0,399.0 L564.0,407.1 L565.0,414.1 L572.0,414.1 L582.0,422.1 L592.1,427.5 L600.1,424.1 L610.1,420.1 L612.1,415.1 L611.7,406.0 L618.1,409.5 L626.1,408.7 L634.1,409.5 L638.1,415.1 L639.1,423.1 L638.1,430.1 L635.1,434.1 L638.1,440.1 L637.1,448.1 L633.1,454.1 L626.1,453.1 L625.1,467.1 L626.1,483.1 L627.3,496.1 M665.1,355.0 L664.1,363.0 L668.1,367.0 L676.1,367.4 L680.1,371.0 L684.1,375.0 L687.1,378.0 L683.1,381.0 L688.1,379.0 L698.2,376.0 L708.2,373.0 L712.2,370.0 L713.2,364.0 L717.2,361.0 L723.2,363.0 L728.2,367.0 L729.2,372.0 L736.2,374.0 L745.0,373.0 M729.2,372.0 L725.2,377.0 L718.2,380.0 L714.2,387.0 L715.2,393.0 L718.2,400.0 L723.2,404.0 L722.2,409.1 L728.2,411.1 L727.2,419.1 L723.2,422.1 L729.2,425.1 L728.2,430.1 L733.2,430.1 L729.2,439.1 L729.2,446.1 L726.2,453.1 L732.2,456.1 L740.2,452.1 L741.2,459.1 L742.2,466.1 M540.0,496.1 L550.0,496.1 L551.0,498.7 L588.0,498.7 L627.3,496.1 L670.1,493.1 L679.1,492.7 M551.0,498.7 L554.0,504.1 L551.0,516.2 L557.0,521.2 L557.0,533.2 L558.0,542.2 L563.0,547.2 L569.0,552.2 L566.0,556.2 L565.0,560.0 M588.0,498.7 L594.1,513.2 L599.1,529.2 L602.1,543.2 L600.1,555.2 L599.1,560.0 M679.1,513.2 L675.1,513.2 L675.1,516.8 L680.1,516.8 L683.1,521.2 L689.1,526.2 L692.1,533.2 L700.2,536.2 L706.2,540.2 L706.6,548.2 L703.2,554.2 L708.2,556.2 L710.2,560.0 M718.2,469.1 L718.2,479.1 L719.2,491.1 L721.2,499.1 L727.2,504.1 L732.2,511.2 L737.2,521.2 L742.2,527.2 L745.0,528.2 M743.0,355.0 L747.0,359.0 L748.6,364.0 L746.0,371.0 L741.0,374.0 L735.0,373.4 M795.1,355.0 L792.1,358.0 L794.1,367.0 L800.1,370.0 L805.1,376.0 L811.1,380.0 L819.1,382.0 L822.1,387.0 L824.1,391.0 L829.1,391.0 L835.1,395.0 L839.1,402.0 L839.5,409.1 L835.1,415.1 L834.7,424.1 L840.1,428.1 L841.1,433.1 L838.1,434.7 M838.1,434.7 L847.1,436.1 L857.1,436.7 L865.1,434.1 L871.1,437.1 L877.1,431.1 L883.1,428.1 L884.7,423.1 L882.1,415.1 L879.1,407.1 L877.5,398.0 L879.1,392.0 L887.1,388.0 L893.2,383.0 L891.2,375.0 L895.2,367.0 L900.2,365.0 L895.2,363.0 L889.2,359.0 L885.1,355.0 M857.1,355.0 L863.1,360.0 L873.1,362.6 L879.1,361.0 L882.1,355.0 M735.0,453.1 L743.0,451.1 L751.0,447.1 L761.0,452.1 L770.0,451.1 L777.0,457.1 L785.0,453.1 L795.1,457.1 L803.1,459.1 L814.1,460.1 M739.0,452.7 L741.0,465.1 M831.1,482.1 L839.1,484.1 L840.1,491.1 L833.1,490.1 L829.1,492.7 L823.1,490.7 L819.1,493.1 L811.1,497.1 L803.1,501.1 L795.1,505.1 L790.1,509.2 L801.1,509.2 L803.1,519.2 L806.1,527.2 L809.1,535.2 L814.1,543.2 L816.1,549.2 L812.1,553.2 L810.1,560.0 M735.0,514.2 L738.0,521.2 L743.0,528.2 L747.0,533.2 L754.0,536.2 L756.0,541.2 L765.0,539.2 L777.0,537.2 L785.0,533.2 L790.1,532.2 L797.1,535.2 L808.1,534.2 M238.1,530.0 L239.1,536.0 L237.1,542.0 L244.1,544.0 L246.1,550.0 L248.1,554.0 L254.1,555.0 L260.1,557.0 L263.1,561.0 L261.1,566.0 L257.1,571.0 L254.1,575.0 L254.1,583.1 M527.6,596.1 L538.2,588.1 L540.2,590.1 L550.0,581.0 M557.6,530.0 L557.0,543.0 L564.0,549.0 L570.0,553.0 L566.0,557.0 L564.0,563.0 L562.0,569.0 L565.0,573.0 L556.0,578.0 L548.0,583.1 L540.0,590.1 M599.1,530.0 L601.1,542.0 L600.1,552.0 L598.1,560.0 L595.1,567.0 L598.1,571.0 L604.1,572.0 L609.1,578.0 L611.1,584.1 L617.1,588.1 L622.1,593.1 L623.7,596.1 M690.1,530.0 L694.2,535.0 L702.2,537.0 L706.2,541.0 L705.2,548.0 L703.2,555.0 L710.2,557.0 L711.2,563.0 L716.2,568.0 L719.2,571.0 L728.2,570.0 L738.2,568.0 L745.0,566.0 M623.7,596.1 L620.1,601.1 L614.1,605.1 L609.1,609.1 L601.1,613.1 L594.1,618.1 L587.0,625.1 L581.0,633.1 L578.0,634.1 L575.0,633.1 L577.0,638.1 L580.0,644.1 L576.0,645.1 L569.0,641.1 L563.6,637.1 L566.0,634.1 L567.0,629.1 L560.0,627.7 L550.0,627.1 L540.0,626.1 M745.0,530.0 L747.0,534.0 L754.0,537.0 L756.0,542.0 L765.0,540.0 L777.0,538.0 L785.0,534.0 L790.1,532.4 L797.1,535.6 L808.1,534.4 M808.1,530.0 L810.1,536.0 L814.1,542.0 L816.1,550.0 L812.1,553.0 L814.1,557.0 L808.1,560.0 L808.7,565.0 L807.1,570.0 L810.1,577.0 M735.0,569.0 L745.0,567.0 L755.0,566.4 L765.0,566.6 L775.0,566.0 L785.0,566.4 L790.1,570.0 L797.1,573.0 L804.1,575.0 L810.1,577.0" fill="none" stroke="#000" stroke-width="1.75" stroke-linejoin="round" stroke-linecap="round"/>
<path d="M679.1,492.7 L684.1,485.1 L692.1,477.1 L700.2,471.1 L710.2,468.7 L718.2,469.1 L728.2,468.7 L740.2,467.1 L745.0,465.1 M679.1,492.7 L678.1,499.1 L677.7,507.1 L679.1,513.2 M814.1,460.1 L819.1,467.1 L825.1,473.1 L829.1,477.1 L831.1,482.1 M228.1,450.3 L231.2,447.2 L237.5,444.1 L245.3,441.7 L253.1,440.6 L259.4,440.6 L262.5,443.3 L264.8,447.2 L270.3,448.0 L276.6,450.3 L282.8,451.9 L286.7,455.8 L287.5,461.2 L285.9,466.7 L282.8,469.1 L279.7,472.2 L280.5,476.9 L278.1,481.6 L275.0,485.5 L268.8,486.2 L259.4,484.7 L251.6,485.5 L247.7,490.2 L243.8,494.8 L242.2,498.8 L245.3,503.4 L249.2,506.9 L243.8,507.3 L238.3,504.2 L231.2,501.6 L226.6,501.9 L224.7,505.8 L228.1,508.9 L232.8,511.2 L235.2,516.7 L236.2,523.8 L236.7,527.7 M243.8,494.1 L239.1,495.6 L235.2,494.8 M223.4,488.6 L225.0,492.5 L227.3,493.3 L226.2,489.4 L223.4,488.6 M228.1,489.4 L229.7,492.5 L230.5,490.2 L228.1,489.4 M835.5,394.8 L838.6,400.3 L840.9,402.7" fill="none" stroke="#0d3560" stroke-width="2.0" stroke-linejoin="round" stroke-linecap="round"/>
<path d="M214.8,446.4 L218.8,445.6 L221.9,449.5 L228.1,448.4 L230.0,451.6 L227.7,456.1 L222.7,454.5 L218.8,452.2 L216.4,449.5Z M275.0,485.0 L277.8,483.4 L280.0,485.0 L279.4,488.1 L276.9,488.8 L274.7,487.2Z" fill="#111"/>
</g>
<circle cx="281" cy="330" r="4.3" fill="#000"/>
<text x="285.5" y="333.1" font-size="10.5">Uralsk</text>
<circle cx="376.6" cy="370.8" r="4.3" fill="#000"/>
<text x="381.1" y="373.9" font-size="10.5">Aktobe</text>
<circle cx="490" cy="301.6" r="4.3" fill="#000"/>
<text x="494.5" y="304.7" font-size="10.5">Kostanay</text>
<circle cx="578.4" cy="262" r="4.3" fill="#000"/>
<text x="582.9" y="265.1" font-size="10.5">Petropavlovsk</text>
<circle cx="584.4" cy="300" r="4.3" fill="#000"/>
<text x="588.9" y="303.1" font-size="10.5">Kokshetau</text>
<circle cx="708.6" cy="317" r="4.3" fill="#000"/>
<text x="713.1" y="320.1" font-size="10.5">Pavlodar</text>
<circle cx="815.9" cy="362.3" r="4.3" fill="#000"/>
<text x="820.4" y="365.4" font-size="10.5">Ustkamen</text>
<circle cx="651.5" cy="391" r="4.3" fill="#000"/>
<text x="656.0" y="394.1" font-size="10.5">Karaganda</text>
<circle cx="558" cy="449.1" r="4.3" fill="#000"/>
<text x="562.5" y="452.2" font-size="10.5">Zheskazgan</text>
<circle cx="268.1" cy="440.5" r="4.3" fill="#000"/>
<text x="272.6" y="443.6" font-size="10.5">Atyrau</text>
<circle cx="236.5" cy="527.8" r="4.3" fill="#000"/>
<text x="241.0" y="530.9" font-size="10.5">Aktau</text>
<circle cx="516.4" cy="529.8" r="4.3" fill="#000"/>
<text x="520.9" y="532.9" font-size="10.5">Kyzylorda</text>
<circle cx="762.4" cy="508.8" r="4.3" fill="#000"/>
<text x="766.9" y="511.9" font-size="10.5">Taldykurgan</text>
<circle cx="630.7" cy="579" r="4.3" fill="#000"/>
<text x="635.2" y="582.1" font-size="10.5">Taraz</text>
<circle cx="599.7" cy="596.9" r="4.3" fill="#000"/>
<text x="604.2" y="600.0" font-size="10.5">Shimkent</text>
<path d="M619.9,350.0 L621.2,353.6 L625.0,353.7 L622.0,356.1 L623.1,359.8 L619.9,357.6 L616.7,359.8 L617.8,356.1 L614.8,353.7 L618.6,353.6Z" fill="#fff" stroke="#f00" stroke-width="1.2"/>
<text x="625.6999999999999" y="359.7" font-size="12.5" font-weight="bold">Astana</text>
<path d="M740.4,556.2 L741.7,559.8 L745.5,559.9 L742.5,562.3 L743.6,566.0 L740.4,563.8 L737.2,566.0 L738.3,562.3 L735.3,559.9 L739.1,559.8Z" fill="#fff" stroke="#f00" stroke-width="1.2"/>
<text x="746.1999999999999" y="565.9" font-size="12.5" font-weight="bold">Almaty</text>
<rect x="240.7" y="391.6" width="47.8" height="21.9" fill="none" stroke="#707070" stroke-width="0.9"/>
<text transform="translate(264.9,409.8) scale(1,1.05)" font-size="19" text-anchor="middle">1020</text>
<rect x="456.5" y="428.7" width="47.7" height="21.4" fill="none" stroke="#707070" stroke-width="0.9"/>
<text transform="translate(480.7,446.4) scale(1,1.05)" font-size="19" text-anchor="middle">1020</text>
<rect x="706.6" y="379.4" width="46.8" height="22.0" fill="none" stroke="#707070" stroke-width="0.9"/>
<text transform="translate(730.3,397.6) scale(1,1.05)" font-size="19" text-anchor="middle">1020</text>
<rect x="821.5" y="384.4" width="47.2" height="21.6" fill="none" stroke="#707070" stroke-width="0.9"/>
<text transform="translate(845.4,402.2) scale(1,1.05)" font-size="19" text-anchor="middle">1020</text>
<rect x="285.1" y="587.7" width="47.5" height="21.8" fill="none" stroke="#707070" stroke-width="0.9"/>
<text transform="translate(309.2,605.8) scale(1,1.05)" font-size="19" text-anchor="middle">1010</text>
<rect x="716.3" y="194" width="47.2" height="21.5" fill="none" stroke="#707070" stroke-width="0.9"/>
<text transform="translate(740.2,211.8) scale(1,1.05)" font-size="19" text-anchor="middle">1020</text>
<!--/MAP-->
<!--AXES-->
<line x1="138" y1="217.2" x2="153.5" y2="217.2" stroke="#222" stroke-width="1.2"/>
<text x="125.3" y="223.8" font-size="18.6" text-anchor="end" textLength="38.9" lengthAdjust="spacingAndGlyphs">54°N</text>
<line x1="138" y1="274.3" x2="153.5" y2="274.3" stroke="#222" stroke-width="1.2"/>
<text x="125.3" y="280.9" font-size="18.6" text-anchor="end" textLength="38.9" lengthAdjust="spacingAndGlyphs">52°N</text>
<line x1="138" y1="331.2" x2="153.5" y2="331.2" stroke="#222" stroke-width="1.2"/>
<text x="125.3" y="337.8" font-size="18.6" text-anchor="end" textLength="38.9" lengthAdjust="spacingAndGlyphs">50°N</text>
<line x1="138" y1="387.6" x2="153.5" y2="387.6" stroke="#222" stroke-width="1.2"/>
<text x="125.3" y="394.2" font-size="18.6" text-anchor="end" textLength="38.9" lengthAdjust="spacingAndGlyphs">48°N</text>
<line x1="138" y1="443.7" x2="153.5" y2="443.7" stroke="#222" stroke-width="1.2"/>
<text x="125.3" y="450.2" font-size="18.6" text-anchor="end" textLength="38.9" lengthAdjust="spacingAndGlyphs">46°N</text>
<line x1="138" y1="499.8" x2="153.5" y2="499.8" stroke="#222" stroke-width="1.2"/>
<text x="125.3" y="506.4" font-size="18.6" text-anchor="end" textLength="38.9" lengthAdjust="spacingAndGlyphs">44°N</text>
<line x1="138" y1="555.8" x2="153.5" y2="555.8" stroke="#222" stroke-width="1.2"/>
<text x="125.3" y="562.3" font-size="18.6" text-anchor="end" textLength="38.9" lengthAdjust="spacingAndGlyphs">42°N</text>
<line x1="138" y1="611.8" x2="153.5" y2="611.8" stroke="#222" stroke-width="1.2"/>
<text x="125.3" y="618.3" font-size="18.6" text-anchor="end" textLength="38.9" lengthAdjust="spacingAndGlyphs">40°N</text>
<line x1="138" y1="667.8" x2="153.5" y2="667.8" stroke="#222" stroke-width="1.2"/>
<text x="125.3" y="674.3" font-size="18.6" text-anchor="end" textLength="38.9" lengthAdjust="spacingAndGlyphs">38°N</text>
<line x1="174.4" y1="704.5" x2="174.4" y2="720" stroke="#222" stroke-width="1.2"/>
<text x="174.4" y="746.6" font-size="18.6" text-anchor="middle" textLength="38.5" lengthAdjust="spacingAndGlyphs">50°E</text>
<line x1="286.1" y1="704.5" x2="286.1" y2="720" stroke="#222" stroke-width="1.2"/>
<text x="286.1" y="746.6" font-size="18.6" text-anchor="middle" textLength="38.5" lengthAdjust="spacingAndGlyphs">55°E</text>
<line x1="395.1" y1="704.5" x2="395.1" y2="720" stroke="#222" stroke-width="1.2"/>
<text x="395.1" y="746.6" font-size="18.6" text-anchor="middle" textLength="38.5" lengthAdjust="spacingAndGlyphs">60°E</text>
<line x1="502.5" y1="704.5" x2="502.5" y2="720" stroke="#222" stroke-width="1.2"/>
<text x="502.5" y="746.6" font-size="18.6" text-anchor="middle" textLength="38.5" lengthAdjust="spacingAndGlyphs">65°E</text>
<line x1="609.9" y1="704.5" x2="609.9" y2="720" stroke="#222" stroke-width="1.2"/>
<text x="609.9" y="746.6" font-size="18.6" text-anchor="middle" textLength="38.5" lengthAdjust="spacingAndGlyphs">70°E</text>
<line x1="717.3" y1="704.5" x2="717.3" y2="720" stroke="#222" stroke-width="1.2"/>
<text x="717.3" y="746.6" font-size="18.6" text-anchor="middle" textLength="38.5" lengthAdjust="spacingAndGlyphs">75°E</text>
<line x1="826.7" y1="704.5" x2="826.7" y2="720" stroke="#222" stroke-width="1.2"/>
<text x="826.7" y="746.6" font-size="18.6" text-anchor="middle" textLength="38.5" lengthAdjust="spacingAndGlyphs">80°E</text>
<rect x="295.30" y="820.3" width="45.46" height="27" fill="#ffffff" stroke="#333" stroke-width="0.8"/>
<rect x="340.76" y="820.3" width="45.46" height="27" fill="#b0ffb0" stroke="#333" stroke-width="0.8"/>
<rect x="386.22" y="820.3" width="45.46" height="27" fill="#90ff90" stroke="#333" stroke-width="0.8"/>
<rect x="431.68" y="820.3" width="45.46" height="27" fill="#66dd66" stroke="#333" stroke-width="0.8"/>
<rect x="477.14" y="820.3" width="45.46" height="27" fill="#3cb03c" stroke="#333" stroke-width="0.8"/>
<rect x="522.60" y="820.3" width="45.46" height="27" fill="#ffff00" stroke="#333" stroke-width="0.8"/>
<rect x="568.06" y="820.3" width="45.46" height="27" fill="#ffc800" stroke="#333" stroke-width="0.8"/>
<rect x="613.52" y="820.3" width="45.46" height="27" fill="#ff9600" stroke="#333" stroke-width="0.8"/>
<rect x="658.98" y="820.3" width="45.46" height="27" fill="#ff6400" stroke="#333" stroke-width="0.8"/>
<rect x="704.44" y="820.3" width="45.46" height="27" fill="#ff0000" stroke="#333" stroke-width="0.8"/>
<rect x="749.90" y="820.3" width="45.46" height="27" fill="#c80000" stroke="#333" stroke-width="0.8"/>
<text x="340.76" y="877.7" font-size="12" text-anchor="middle">.1</text>
<text x="386.22" y="877.7" font-size="12" text-anchor="middle">.3</text>
<text x="431.68" y="877.7" font-size="12" text-anchor="middle">1</text>
<text x="477.14" y="877.7" font-size="12" text-anchor="middle">6</text>
<text x="522.60" y="877.7" font-size="12" text-anchor="middle">15</text>
<text x="568.06" y="877.7" font-size="12" text-anchor="middle">20</text>
<text x="613.52" y="877.7" font-size="12" text-anchor="middle">25</text>
<text x="658.98" y="877.7" font-size="12" text-anchor="middle">30</text>
<text x="704.44" y="877.7" font-size="12" text-anchor="middle">50</text>
<text x="749.90" y="877.7" font-size="12" text-anchor="middle">60</text>
<text x="545.5" y="808.7" font-size="15.35" text-anchor="middle">Precipitation Tendency (mm)</text>
<!--/AXES-->
<rect x="153.3" y="182.8" width="784.4" height="521.7" fill="none" stroke="#222" stroke-width="1.2"/>
</svg>
</body></html>
